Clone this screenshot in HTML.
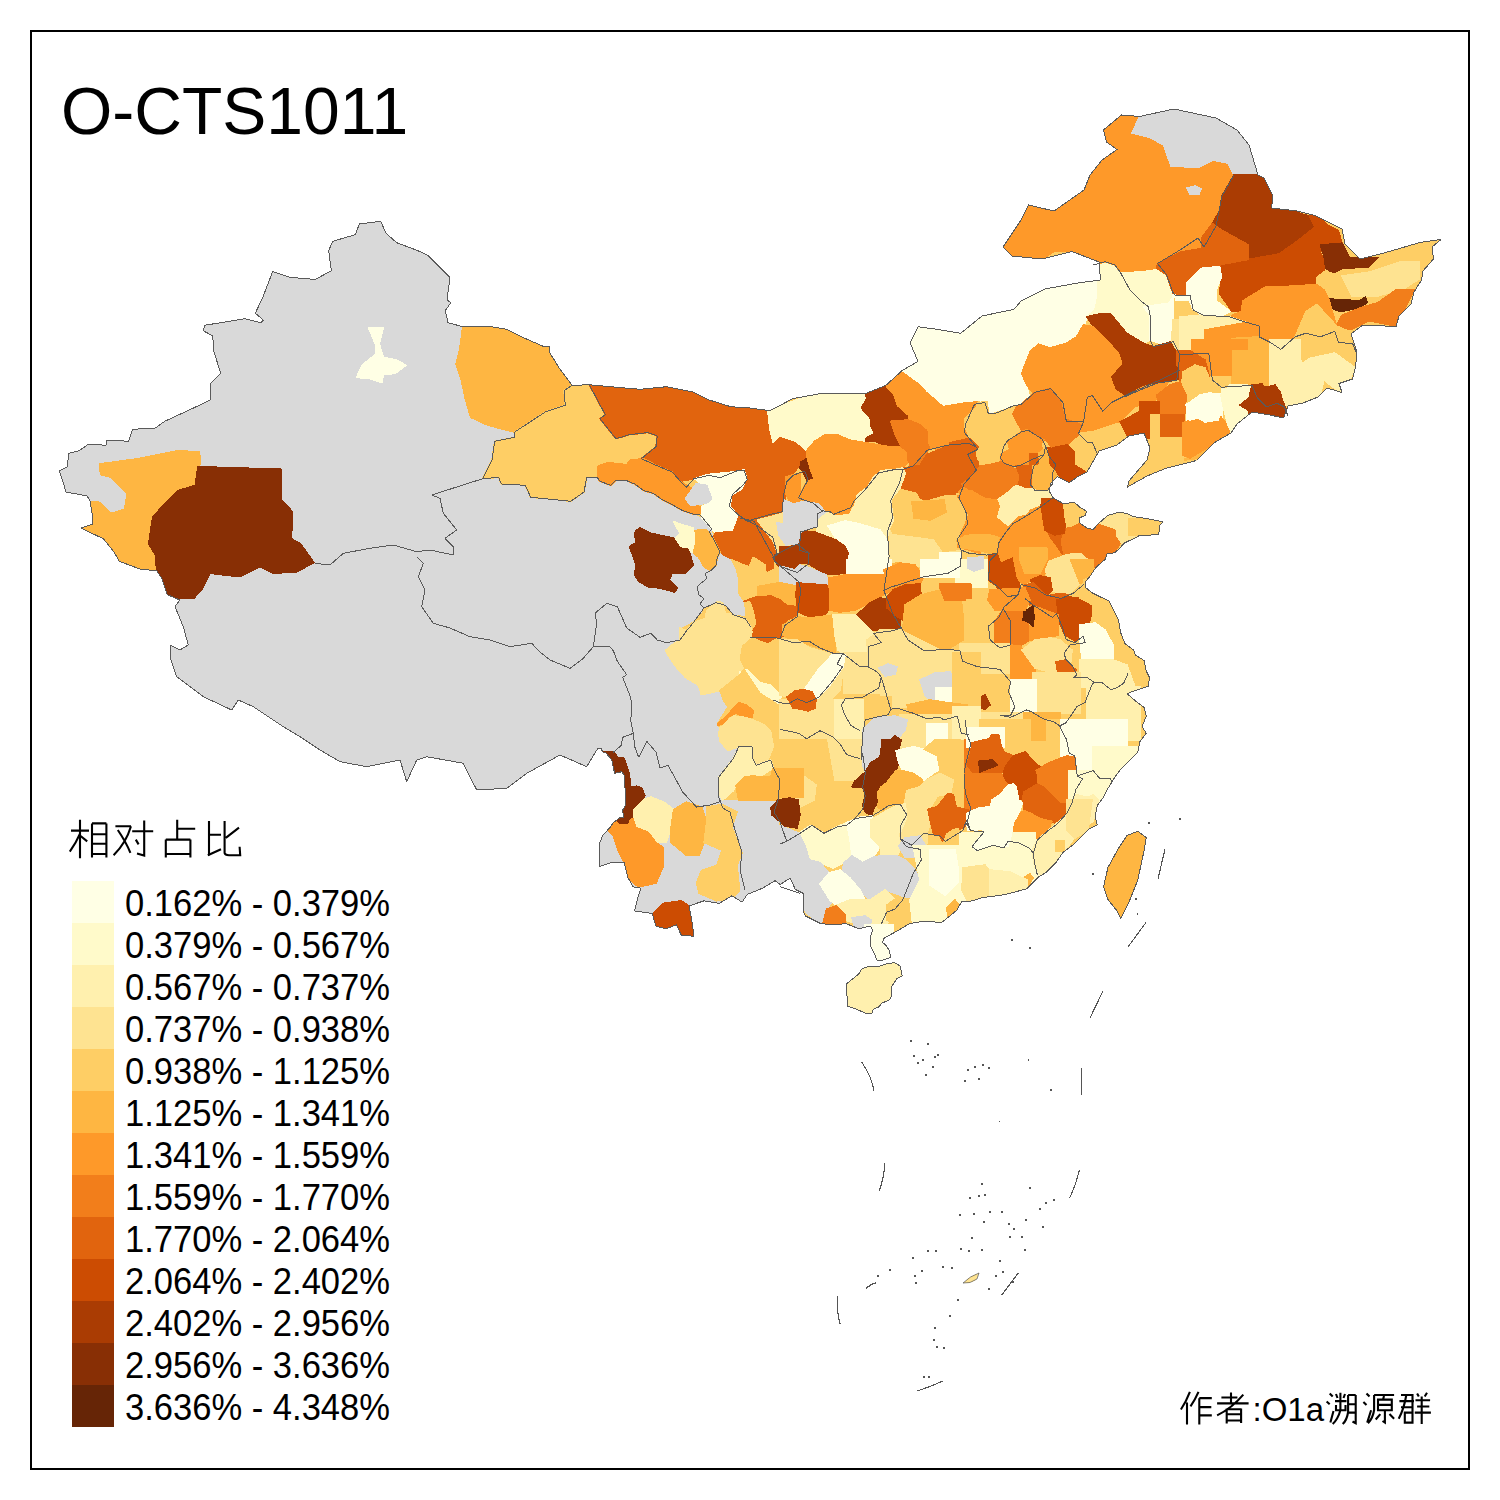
<!DOCTYPE html>
<html><head><meta charset="utf-8"><style>
html,body{margin:0;padding:0;background:#fff;}
body{width:1500px;height:1500px;overflow:hidden;position:relative;font-family:"Liberation Sans",sans-serif;}
svg{position:absolute;left:0;top:0;}
.leg text{font-family:"Liberation Sans",sans-serif;font-size:36px;fill:#000;}
</style></head><body>
<svg width="1500" height="1500" viewBox="0 0 1500 1500">
<rect x="0" y="0" width="1500" height="1500" fill="#fff"/>
<g stroke-linejoin="round" shape-rendering="crispEdges">
<clipPath id="cn"><polygon points="380.7,221.3 386,233.3 396.7,242.7 418,250.7 428.7,256 439.3,266.7 450,277.3 447,300 450.7,302.7 445.3,310.7 448,322.7 462.7,326.7 490.7,326.7 506.7,329.3 522.7,337.3 544,346.7 549.3,346.7 549.3,352 560,369.3 572,385.3 589.3,384.8 640,389.3 666.7,386.7 693.3,392 709.3,400 730.7,406.7 750,408 770,410.7 792.7,398.7 822,393.3 866,393.3 886,385.3 902,370.7 918,361.3 910,342.7 918,326.7 936.7,329.3 960.7,333.3 982,316 1014,309.3 1021,301 1045,289 1078,283 1100.5,280 1099,262 1072,251.5 1042,259 1012,256 1003,247 1021,220 1028.5,205 1054,211 1084,190 1090,175 1102,160 1117,149.5 1106.5,142 1103.5,130 1121.5,115 1139.5,116.5 1174,109 1216,118 1237,130 1249,145 1258,175 1264,178 1273,196 1271.5,208 1297,211 1315,215.5 1342,229 1345,244 1360,259 1384,253 1420,242.5 1441,239.5 1432,247 1433.5,259 1423,271 1421.5,280 1414,292 1411,304 1399,316 1396,326.5 1363,325 1351,334 1357,352 1355.5,367 1352.5,379 1339,383.5 1342,392.5 1327,388 1318,397 1303,403 1288,406 1283.5,418 1270,415 1252,412 1237,424 1231,433 1214.7,442.4 1196.5,460.5 1183,464 1166.7,468 1147,476 1127.5,487 1129,481 1147,460 1150,448 1144,433 1129,436 1117,445 1099,451 1087,472 1078.7,476 1069.3,482.7 1057.3,476.7 1050.7,483.3 1049.3,491.3 1053.3,498 1062.7,503.3 1074.7,502.7 1080,507.3 1086.7,511.3 1085.3,515.3 1079.3,518 1080,523.3 1088,528.7 1093.3,529.3 1098.7,523.3 1108,515.3 1120,512 1128,514 1133.3,516.7 1148,518.7 1163.3,522 1160,524.7 1158.7,534 1149.3,535.3 1140,535.3 1134.7,538 1124,543.3 1120,548 1114.7,552.7 1106.7,554 1105.3,559.3 1096,567.3 1090.7,575.3 1085.3,582 1085.3,587.3 1092,592.7 1100,596.7 1109.3,601.3 1114.7,612.7 1118.5,620 1120.7,632.8 1124.9,643.5 1133.5,649.9 1135.6,655.2 1144.1,660.5 1146.3,671.2 1149.5,677.6 1148.4,686.1 1135.6,690.4 1127.1,693.6 1135.6,701.1 1144.1,707.5 1146.3,716 1142,726.7 1146.3,733.1 1139.9,741.6 1137.7,752.3 1129.2,760.8 1120.7,769.3 1114.3,777.9 1107.9,788.5 1103.6,797.1 1097.2,805.6 1095.1,816.3 1097.2,824.8 1088.7,829.1 1085.3,833 1075,843.3 1063.3,852.1 1056,862.4 1045.7,872.7 1038.4,877.1 1026.7,888.8 1004.7,894.7 982.7,897.6 968,902 962,901 957,910 949,916.7 941.6,922.5 924,921.1 909.4,923.6 900,929.3 895.3,932 888,936 883.3,938.7 882.7,942.7 886,945.3 889.3,950.7 890.7,957.3 883.3,960 877.3,960.7 873.3,951.3 870.7,946.7 870,937.3 872.7,930.7 870.7,926 858.7,928.7 846,923.6 833.4,924.9 820.7,923.6 805.5,916 803,911 803,893.2 795.3,889.4 790.3,878 780.2,884.4 775.1,880.6 762.4,888.2 747.2,894.5 742.1,902.1 732,895.8 719.3,903.4 704.1,900.8 689,905.9 691.5,918.6 694,936.3 681.3,935 676.3,924.9 666.1,928.7 656,926.2 652.2,913.5 634.5,911 637,900.8 640.8,888.2 633.2,886.9 628.1,878 624.3,862.8 610.4,862.8 599,866.6 599,845 602.8,835 610.4,827.3 613,822.8 620.2,817.4 623.8,817.4 622.6,810.2 625,806 625,788 624.4,776 622,771.8 617.8,772.4 614.8,773.6 613,766.4 611.8,760 605.8,752.6 602.8,752 601,748.4 597.4,749 586.7,766.7 560,755 526.7,773.3 506.7,788.3 476.7,790 463.3,763.3 426.7,756.7 416.7,760 406.7,781.7 400,760 366.7,766.7 340,761.7 320,750 300,736.7 283.3,726.7 253.3,706.7 238.3,700 231.7,710 203.3,696.7 190,686.7 176.7,676.7 170,656.7 170,645 180,650 188.3,645 183.3,626.7 175,606.7 180,600 167.3,594.7 162,578.7 156.7,570.7 140.7,569.3 119.3,561.3 114,552 103.3,538.7 80.7,528 92.7,524 92.7,517.3 90,501.3 87.3,496 66,492 62,478.7 59.3,470.7 67.3,466.7 68.7,453.3 79.3,450.7 88.7,444 106,445.3 106,440 128.7,441.3 132.7,429.3 155.3,428 164.7,421.3 199.3,405.3 210,400 210,384 220.7,373.3 214,352 212.7,336 203.3,330.7 204.7,325.3 244.7,318.7 260.7,322.7 263.3,320 255.3,313.3 263.3,296 272.7,271.5 290,277.3 315.3,279.5 331.3,270.7 328.7,250.7 332.7,241.3 355.3,234.7 359.3,224"/><polygon points="846.7,984 847.3,1006 853.3,1008 865.3,1013 872,1013 873.3,1009.3 879.3,1006.7 881.3,1003.3 889.3,1000 891.3,996.7 891.3,987.3 896.7,978.7 902.3,976 900,966 894.7,962.7 886.7,963.7 878,966.7 868,966.7 862,968.7 858.7,974 848.7,982"/><polygon points="1137.7,831.2 1146.3,837.6 1144.1,850.4 1137.7,880.3 1129.2,901.6 1120.7,918.7 1116.4,910.1 1107.9,899.5 1103.6,886.7 1107.9,867.5 1118.5,848.3 1127.1,835.5"/></clipPath>
<polygon points="380.7,221.3 386,233.3 396.7,242.7 418,250.7 428.7,256 439.3,266.7 450,277.3 447,300 450.7,302.7 445.3,310.7 448,322.7 462.7,326.7 490.7,326.7 506.7,329.3 522.7,337.3 544,346.7 549.3,346.7 549.3,352 560,369.3 572,385.3 589.3,384.8 640,389.3 666.7,386.7 693.3,392 709.3,400 730.7,406.7 750,408 770,410.7 792.7,398.7 822,393.3 866,393.3 886,385.3 902,370.7 918,361.3 910,342.7 918,326.7 936.7,329.3 960.7,333.3 982,316 1014,309.3 1021,301 1045,289 1078,283 1100.5,280 1099,262 1072,251.5 1042,259 1012,256 1003,247 1021,220 1028.5,205 1054,211 1084,190 1090,175 1102,160 1117,149.5 1106.5,142 1103.5,130 1121.5,115 1139.5,116.5 1174,109 1216,118 1237,130 1249,145 1258,175 1264,178 1273,196 1271.5,208 1297,211 1315,215.5 1342,229 1345,244 1360,259 1384,253 1420,242.5 1441,239.5 1432,247 1433.5,259 1423,271 1421.5,280 1414,292 1411,304 1399,316 1396,326.5 1363,325 1351,334 1357,352 1355.5,367 1352.5,379 1339,383.5 1342,392.5 1327,388 1318,397 1303,403 1288,406 1283.5,418 1270,415 1252,412 1237,424 1231,433 1214.7,442.4 1196.5,460.5 1183,464 1166.7,468 1147,476 1127.5,487 1129,481 1147,460 1150,448 1144,433 1129,436 1117,445 1099,451 1087,472 1078.7,476 1069.3,482.7 1057.3,476.7 1050.7,483.3 1049.3,491.3 1053.3,498 1062.7,503.3 1074.7,502.7 1080,507.3 1086.7,511.3 1085.3,515.3 1079.3,518 1080,523.3 1088,528.7 1093.3,529.3 1098.7,523.3 1108,515.3 1120,512 1128,514 1133.3,516.7 1148,518.7 1163.3,522 1160,524.7 1158.7,534 1149.3,535.3 1140,535.3 1134.7,538 1124,543.3 1120,548 1114.7,552.7 1106.7,554 1105.3,559.3 1096,567.3 1090.7,575.3 1085.3,582 1085.3,587.3 1092,592.7 1100,596.7 1109.3,601.3 1114.7,612.7 1118.5,620 1120.7,632.8 1124.9,643.5 1133.5,649.9 1135.6,655.2 1144.1,660.5 1146.3,671.2 1149.5,677.6 1148.4,686.1 1135.6,690.4 1127.1,693.6 1135.6,701.1 1144.1,707.5 1146.3,716 1142,726.7 1146.3,733.1 1139.9,741.6 1137.7,752.3 1129.2,760.8 1120.7,769.3 1114.3,777.9 1107.9,788.5 1103.6,797.1 1097.2,805.6 1095.1,816.3 1097.2,824.8 1088.7,829.1 1085.3,833 1075,843.3 1063.3,852.1 1056,862.4 1045.7,872.7 1038.4,877.1 1026.7,888.8 1004.7,894.7 982.7,897.6 968,902 962,901 957,910 949,916.7 941.6,922.5 924,921.1 909.4,923.6 900,929.3 895.3,932 888,936 883.3,938.7 882.7,942.7 886,945.3 889.3,950.7 890.7,957.3 883.3,960 877.3,960.7 873.3,951.3 870.7,946.7 870,937.3 872.7,930.7 870.7,926 858.7,928.7 846,923.6 833.4,924.9 820.7,923.6 805.5,916 803,911 803,893.2 795.3,889.4 790.3,878 780.2,884.4 775.1,880.6 762.4,888.2 747.2,894.5 742.1,902.1 732,895.8 719.3,903.4 704.1,900.8 689,905.9 691.5,918.6 694,936.3 681.3,935 676.3,924.9 666.1,928.7 656,926.2 652.2,913.5 634.5,911 637,900.8 640.8,888.2 633.2,886.9 628.1,878 624.3,862.8 610.4,862.8 599,866.6 599,845 602.8,835 610.4,827.3 613,822.8 620.2,817.4 623.8,817.4 622.6,810.2 625,806 625,788 624.4,776 622,771.8 617.8,772.4 614.8,773.6 613,766.4 611.8,760 605.8,752.6 602.8,752 601,748.4 597.4,749 586.7,766.7 560,755 526.7,773.3 506.7,788.3 476.7,790 463.3,763.3 426.7,756.7 416.7,760 406.7,781.7 400,760 366.7,766.7 340,761.7 320,750 300,736.7 283.3,726.7 253.3,706.7 238.3,700 231.7,710 203.3,696.7 190,686.7 176.7,676.7 170,656.7 170,645 180,650 188.3,645 183.3,626.7 175,606.7 180,600 167.3,594.7 162,578.7 156.7,570.7 140.7,569.3 119.3,561.3 114,552 103.3,538.7 80.7,528 92.7,524 92.7,517.3 90,501.3 87.3,496 66,492 62,478.7 59.3,470.7 67.3,466.7 68.7,453.3 79.3,450.7 88.7,444 106,445.3 106,440 128.7,441.3 132.7,429.3 155.3,428 164.7,421.3 199.3,405.3 210,400 210,384 220.7,373.3 214,352 212.7,336 203.3,330.7 204.7,325.3 244.7,318.7 260.7,322.7 263.3,320 255.3,313.3 263.3,296 272.7,271.5 290,277.3 315.3,279.5 331.3,270.7 328.7,250.7 332.7,241.3 355.3,234.7 359.3,224" fill="#D9D9D9"/>
<polygon points="846.7,984 847.3,1006 853.3,1008 865.3,1013 872,1013 873.3,1009.3 879.3,1006.7 881.3,1003.3 889.3,1000 891.3,996.7 891.3,987.3 896.7,978.7 902.3,976 900,966 894.7,962.7 886.7,963.7 878,966.7 868,966.7 862,968.7 858.7,974 848.7,982" fill="#D9D9D9"/>
<polygon points="1137.7,831.2 1146.3,837.6 1144.1,850.4 1137.7,880.3 1129.2,901.6 1120.7,918.7 1116.4,910.1 1107.9,899.5 1103.6,886.7 1107.9,867.5 1118.5,848.3 1127.1,835.5" fill="#D9D9D9"/>
<g clip-path="url(#cn)">
<polygon points="462,250 462.7,326.7 460,348 456,364 461.3,380 465.3,398.7 470.7,417.3 488,425.3 514.7,432 514.7,437.3 494.7,441.3 492,460 482.7,478.7 498.7,477.3 501.3,484 525.3,485.3 530.7,497.3 570.7,501.3 584,492 586.7,477.3 597.3,477.3 600,481.3 610.7,485.3 616,480 626.7,480.7 634.7,484 644,490.7 653.3,493.3 662.7,500 673.3,505.3 682.7,510.7 693.3,514 701.3,517.3 712,529.3 713.3,538.7 717.3,546.7 720,552 733.3,560 736,568 738.7,578.7 738.7,593.3 744,601.3 745.3,616 733.3,614.7 725.3,605.3 716,602.7 704,608 701.3,613.3 693.3,621.3 686.7,625.3 678.7,629.3 680,640 673.3,644 665.3,650.7 674.7,665.3 685.3,677.3 698.7,685.3 701.3,694.7 720,690.7 724,701.3 728,706.7 724,713.3 717.3,724 720,728 718.7,733.3 720,741.3 728,750.7 738.7,746.7 733.3,758.7 722.7,772 718.7,777.3 718.7,793.3 722.7,800 800,800 803,893 803,1050 1500,1050 1500,50 462,50" fill="#FECE65"/>
<polygon points="99.3,464 138,458.7 178,450.7 199.3,452 200.7,464 198,466.7 195.3,485.3 178,490.7 162,506.7 152.7,517.3 148.7,544 155.3,554.7 156.7,570.7 140.7,569.3 119.3,561.3 114,552 103.3,538.7 80.7,528 92.7,524 90,501.3 98,501.3 111.3,513.3 124.7,509.3 127.3,493.3 111.3,477.3 100.7,474.7" fill="#FEB642" stroke="#FEB642" stroke-width="1.6"/>
<polygon points="198,466.7 280.7,469.3 280.7,498.7 292.7,512 291.3,538.7 300.7,544 314,562.7 296.7,571.7 273.3,573.3 260,566.7 240,576.7 210,573.3 202,589.3 194,598 180,598.3 167.3,594.7 162,578.7 156.7,570.7 155.3,554.7 148.7,544 152.7,517.3 162,506.7 178,490.7 195.3,485.3" fill="#882F05" stroke="#882F05" stroke-width="1.6"/>
<polygon points="368.7,328 383.3,328 379.3,344 383.3,357.3 396.7,360 406,365.3 395.3,373.3 383.3,374.7 382,382.7 370,378.7 356.7,377.3 362,365.3 375.3,354.7 375.3,344" fill="#FFFFE5" stroke="#FFFFE5" stroke-width="1.6"/>
<polygon points="462.7,326.7 490.7,326.7 506.7,329.3 522.7,337.3 544,346.7 549.3,346.7 549.3,352 560,369.3 572,385.3 564,390.7 565.3,405.3 545.3,412 514.7,432 488,425.3 470.7,417.3 465.3,398.7 461.3,380 456,364 460,348" fill="#FEB642" stroke="#FEB642" stroke-width="1.6"/>
<polygon points="572,385.3 589.3,384.8 605.3,414.7 600,418.7 616,438.7 629.3,434.7 648,432.5 657.3,436 656,446.7 641.3,458.7 632,461.3 597.3,466.7 586.7,477.3 584,492 570.7,501.3 549.3,498.7 530.7,497.3 525.3,485.3 514.7,484 501.3,484 498.7,477.3 482.7,478.7 492,460 494.7,441.3 514.7,437.3 514.7,432 545.3,412 565.3,405.3 564,390.7" fill="#FECE65" stroke="#FECE65" stroke-width="1.6"/>
<polygon points="589.3,384.8 640,389.3 666.7,386.7 693.3,392 709.3,400 730.7,406.7 750,408 770,410.7 780,406 780,436 796,441.3 806.7,450.7 805.3,460 800,465.3 790.7,476 785.3,486.7 785,500 784,520 773.3,516 757.3,520 746.7,520 738.7,517.3 737.3,514.7 730,506.7 732,494.7 741.3,489.3 746.7,478.7 744,470 733.3,472 720,473.3 706.7,474.7 694.7,478.7 680,481.3 672,472 656,465.3 644,458.7 641.3,458.7 656,446.7 657.3,436 648,432.5 629.3,434.7 616,438.7 600,418.7 605.3,414.7" fill="#E1640E" stroke="#E1640E" stroke-width="1.6"/>
<polygon points="600,465.3 608,462.7 626.7,464.7 630.7,460 644,458.7 656,465.3 672,472 680,481.3 693.3,489.3 685.3,497.3 688,504 701.3,506.7 701.3,512.7 693.3,514 682.7,510.7 673.3,505.3 662.7,500 653.3,493.3 644,490.7 634.7,484 626.7,480.7 616,480 610.7,485.3 600,481.3 597.3,477.3 597.3,466.7" fill="#FE9929" stroke="#FE9929" stroke-width="1.6"/>
<polygon points="685.3,498.7 696,484 708,484 713.3,498.7 710.7,502.7 701.3,504 690.7,505.3" fill="#D9D9D9" stroke="#D9D9D9" stroke-width="1.6"/>
<polygon points="694.7,478.7 706.7,474.7 720,473.3 733.3,472 744,470 746.7,478.7 741.3,489.3 732,494.7 730,506.7 737.3,514.7 737.3,522.7 732,532 717.3,536 712,529.3 701.3,517.3 701.3,506.7 710.7,502.7 713.3,498.7 708,484 700,482.7" fill="#FFFFE5" stroke="#FFFFE5" stroke-width="1.6"/>
<polygon points="714.7,533.3 725.3,532 733.3,532 738.7,517.3 746.7,520 756,521.3 765.3,530.7 773.3,541.3 776,552 773.3,556 773.3,568 765.3,572 765.3,565.3 753.3,557.3 749.3,566.7 741.3,564 733.3,560 722.7,554.7 717.3,546.7 713.3,538.7" fill="#E1640E" stroke="#E1640E" stroke-width="1.6"/>
<polygon points="757.3,520 773.3,516 786.7,512 792,533.3 789.3,546.7 777.3,553.3 773.3,541.3 765.3,530.7" fill="#FEE391" stroke="#FEE391" stroke-width="1.6"/>
<polygon points="777,523 797,525 797,543 786,545 779,535" fill="#D9D9D9" stroke="#D9D9D9" stroke-width="1.6"/>
<polygon points="693.3,530.7 705.3,529.3 709.3,532 713.3,538.7 717.3,546.7 720,552 717.3,557.3 716,565.3 710.7,570.7 704,566.7 698.7,557.3 692,552 694.7,541.3" fill="#FEB642" stroke="#FEB642" stroke-width="1.6"/>
<polygon points="673.3,521.3 680,524 693.3,528 694.7,541.3 692,552 688,549.3 680,548 674.7,538.7 680,533.3" fill="#FFFACA" stroke="#FFFACA" stroke-width="1.6"/>
<polygon points="636,530.7 640,528 650.7,533.3 673.3,538 680,548 688,549.3 690.7,556 693.3,565.3 690.7,568 685.3,573.3 672,573.3 669.3,580 677.3,588 674.7,592 660,588 648,586.7 638.7,581.3 634.7,574.7 636,565.3 632,553.3 629.3,546.7 636,542.7 634.7,533.3" fill="#882F05" stroke="#882F05" stroke-width="1.6"/>
<polygon points="732,560 741.3,564 749.3,566.7 753.3,557.3 765.3,565.3 765.3,572 776,574.7 778.7,581.3 772,584 764,590.7 757.3,586.7 754.7,597.3 744,601.3 738.7,593.3 738.7,578.7 736,568" fill="#FECE65" stroke="#FECE65" stroke-width="1.6"/>
<polygon points="757.3,586.7 772,584 786.7,581.3 800,578.7 800,606.7 786.7,604 773.3,600 762.7,601.3 757.3,596" fill="#FEB642" stroke="#FEB642" stroke-width="1.6"/>
<polygon points="774.7,554.7 786.7,550.7 797.3,544 800,541.3 800,576 794.7,573.3 785.3,570.7 777.3,565.3" fill="#AA3C03" stroke="#AA3C03" stroke-width="1.6"/>
<polygon points="785.3,477.3 793.3,474.7 800,473.3 800,512 793.3,509.3 785.3,493.3" fill="#FE9929" stroke="#FE9929" stroke-width="1.6"/>
<polygon points="744,601.3 754.7,597.3 770.7,596 780,600 786.7,605.3 797.3,606.7 797.3,616 786.7,620 784,626.7 786.7,636 777.3,637.3 768,644 760,641.3 750.7,637.3 752,632 757.3,624 754.7,610.7 750.7,600" fill="#E1640E" stroke="#E1640E" stroke-width="1.6"/>
<polygon points="741.3,645.3 750.7,637.3 760,641.3 768,644 777.3,638.7 786.7,640 800,641.3 810,660 805,700 790,720 778.7,705.3 770,690 744,669.3 738.7,658.7" fill="#FECE65" stroke="#FECE65" stroke-width="1.6"/>
<polygon points="680,628 686.7,630.7 693.3,622.7 705.3,618.7 706.7,610.7 717.3,601.3 722.7,602.7 725.3,613.3 733.3,614.7 745.3,618.7 750.7,626.7 752,632 750.7,637.3 741.3,645.3 738.7,658.7 744,669.3 740,674.7 720,690.7 701.3,694.7 698.7,685.3 685.3,677.3 674.7,665.3 665.3,650.7 673.3,644 680,640" fill="#FEE391" stroke="#FEE391" stroke-width="1.6"/>
<polygon points="740,672 746.7,669.3 760,682.7 770.7,685.3 781.3,696 778.7,704 768,700 760,693.3 746.7,685.3 741.3,678.7" fill="#FFFACA" stroke="#FFFACA" stroke-width="1.6"/>
<polygon points="720,690.7 740,674.7 744,669.3 760,693.3 778.7,705.3 790,720 770.7,732 753.3,720 744,717.3 733.3,716 720,728 717.3,724 724,713.3 728,706.7 724,701.3" fill="#FECE65" stroke="#FECE65" stroke-width="1.6"/>
<polygon points="717.3,724 725.3,717.3 738.7,702.7 746.7,705.3 753.3,710.7 752,717.3 744,717.3 736,713.3 728,717.3 724,724 717.3,725.3" fill="#FE9929" stroke="#FE9929" stroke-width="1.6"/>
<polygon points="720,728 733.3,716 744,717.3 753.3,720 765.3,725.3 770.7,732 773.3,746.7 768,760 756,765.3 752,757.3 752,746.7 738.7,746.7 728,750.7 720,741.3 718.7,733.3" fill="#FEE391" stroke="#FEE391" stroke-width="1.6"/>
<polygon points="718.7,777.3 722.7,772 733.3,758.7 738.7,746.7 752,746.7 752,757.3 756,765.3 770.7,760 773.3,768 761.3,776 746.7,777.3 736,785.3 733.3,790.7 722.7,800 718.7,793.3" fill="#FFF0AE" stroke="#FFF0AE" stroke-width="1.6"/>
<polygon points="736,785.3 744,777.3 752,776 770.7,777.3 773.3,768 786.7,770.7 800,770.7 800,800 738.7,800" fill="#FEB642" stroke="#FEB642" stroke-width="1.6"/>
<polygon points="768,412 780,406 800,398.7 820,393.3 865.3,393.3 866.7,398.7 861.3,408 870.7,418.7 870.7,425.3 874.7,433.3 865.3,438.7 865.3,442.7 849.3,440 837.3,434.7 825.3,434.7 814.7,441.3 810.7,449.3 806.7,450.7 796,441.3 780,436 773,442 770,430" fill="#FFFACA" stroke="#FFFACA" stroke-width="1.6"/>
<polygon points="865.3,393.3 873.3,388 886.7,386.7 893.3,393.3 897.3,405.3 909.3,416 908,420 890.7,421.3 894.7,433.3 901.3,446.7 889.3,446.7 874.7,441.3 865.3,441.3 865.3,438.7 874.7,433.3 870.7,425.3 870.7,418.7 861.3,408 866.7,398.7" fill="#AA3C03" stroke="#AA3C03" stroke-width="1.6"/>
<polygon points="806.7,450.7 814.7,441.3 825.3,434.7 837.3,434.7 849.3,440 865.3,442.7 889.3,446.7 901.3,446.7 908,452 908,462.7 902.7,468 896,469.3 881.3,470.7 873.3,477.3 868,486.7 857.3,494.7 854.7,505.3 850.7,508 849.3,514.7 836,516 825.3,512 818.7,504 804,501.3 798.7,497.3 804,486.7 810.7,476 806.7,460" fill="#FE9929" stroke="#FE9929" stroke-width="1.6"/>
<polygon points="886.7,386.7 893.3,372 905,362 920,370 926.7,390.7 946.7,404 960,400 969.3,401.3 977.3,400 974.7,406.7 966.7,420 969.3,437.3 962.7,444 949.3,445.3 940,449.3 929.3,448 926.7,441.3 926.7,430.7 918.7,424 908,420 909.3,416 897.3,405.3 893.3,393.3" fill="#FE9929" stroke="#FE9929" stroke-width="1.6"/>
<polygon points="890.7,421.3 908,420 918.7,424 926.7,430.7 926.7,441.3 929.3,448 924,457.3 920,465.3 910.7,466.7 908,460 908,452 901.3,446.7 894.7,433.3" fill="#F27E1B" stroke="#F27E1B" stroke-width="1.6"/>
<polygon points="904,468 920,465.3 926.7,454.7 940,449.3 949.3,445.3 962.7,444 972,444 980,448 977.3,465.3 974.7,473.3 966.7,481.3 962.7,489.3 953.3,494.7 940,497.3 926.7,501.3 920,500 916,493.3 900,488 902.7,473.3" fill="#E1640E" stroke="#E1640E" stroke-width="1.6"/>
<polygon points="900,489.3 916,493.3 920,500 926.7,501.3 940,497.3 957.3,493.3 964,502.7 969.3,513.3 964,526.7 958.7,540 960,550.7 942.7,553.3 933.3,540 913.3,537.3 892,534.7 889.3,529.3 893.3,520 892,510.7 890.7,500" fill="#FECE65" stroke="#FECE65" stroke-width="1.6"/>
<polygon points="912,502 944,500 946,512 930,520 914,518" fill="#FEB642" stroke="#FEB642" stroke-width="1.6"/>
<polygon points="889.3,529.3 892,534.7 913.3,537.3 933.3,540 942.7,553.3 960,550.7 958,560 940,565 915,566 900,562.7 889.3,564" fill="#FEE391" stroke="#FEE391" stroke-width="1.6"/>
<polygon points="818.7,513.3 825.3,512 836,516 849.3,514.7 854.7,505.3 857.3,494.7 868,486.7 873.3,477.3 881.3,470.7 896,469.3 902.7,468 905.3,473.3 900,488 890.7,500 892,510.7 893.3,520 889.3,529.3 886.7,540 889.3,564 854.7,572 846.7,564 845.3,546.7 836,540 817.3,532 816,520" fill="#FFF0AE" stroke="#FFF0AE" stroke-width="1.6"/>
<polygon points="828,526 845,521 860,524 880,530 887,540 888,562 870,568 855,570 847,562 846,545 835,537" fill="#FFFFE5" stroke="#FFFFE5" stroke-width="1.6"/>
<polygon points="801.3,530.7 814.7,532 836,540 845.3,546.7 848,553.3 845.3,573.3 826.7,574.7 806.7,562.7 796,564 788,572 780,564 780,546.7 790.7,546.7 798.7,542.7" fill="#AA3C03" stroke="#AA3C03" stroke-width="1.6"/>
<polygon points="784,500 793.3,504 804,501.3 818.7,504 825.3,512 817.3,518.7 816,526.7 801.3,530.7 797.3,544 785.3,544 784,520" fill="#D9D9D9" stroke="#D9D9D9" stroke-width="1.6"/>
<polygon points="958.7,492 966.7,484 980,481.3 980,553.3 957.3,546.7 961.3,534.7 969.3,513.3 964,502.7" fill="#FE9929" stroke="#FE9929" stroke-width="1.6"/>
<polygon points="846.7,572 854.7,572 889.3,564 900,562.7 913.3,566.7 924,577.3 886.7,580 846.7,580" fill="#FEB642" stroke="#FEB642" stroke-width="1.6"/>
<polygon points="920,380 926.7,390.7 946.7,404 960,400 980,397.3 980,380" fill="#FFFFE5" stroke="#FFFFE5" stroke-width="1.6"/>
<polygon points="901.7,370 905,330 915,315 960,320 983.3,305 1015,298 1040,280 1076.7,275 1100,276 1100,290 1096.7,306.7 1086.7,318.3 1080,336.7 1063.3,343.3 1048.3,350 1036.7,350 1021.7,373.3 1025,378.3 1030,400 1010,406.7 988.3,413.3 980,400 963.3,401.7 943.3,405 930,393.3 920,383.3" fill="#FFFFE5" stroke="#FFFFE5" stroke-width="1.6"/>
<polygon points="1096.7,271.7 1093.3,265 1105,261.7 1115,265 1120,271.7 1143.3,270 1156.7,268.3 1166.7,275 1173.3,293.3 1168.3,303.3 1143.3,306.7 1150,315 1150,340 1143.3,343.3 1126.7,333.3 1110,313.3 1093.3,313.3 1086.7,316.7 1095,310 1098.3,295" fill="#FFFACA" stroke="#FFFACA" stroke-width="1.6"/>
<polygon points="1143.3,306.7 1168.3,303.3 1175,295 1190,295 1193.3,310 1210,316.7 1210,273.3 1190,283.3 1188,300 1176,300 1173.3,293.3 1173,320 1170,347 1150,340 1150,315" fill="#FFFFE5" stroke="#FFFFE5" stroke-width="1.6"/>
<polygon points="1086.7,316.7 1103.3,313.3 1110,313.3 1126.7,333.3 1143.3,343.3 1153.3,346.7 1171.7,341.7 1178.3,353.3 1180,365 1185,373.3 1176.7,380 1156.7,383.3 1140,390 1125,396.7 1115,390 1110,376.7 1121.7,363.3 1118.3,353.3 1106.7,340 1093.3,326.7" fill="#AA3C03" stroke="#AA3C03" stroke-width="1.6"/>
<polygon points="1021.7,373.3 1030,352 1038.3,344 1050,348 1066.7,343.3 1076.7,336.7 1083.3,325 1093.3,326.7 1106.7,340 1118.3,353.3 1121.7,363.3 1110,376.7 1115,390 1125,396.7 1105,410 1086.7,396.7 1066.7,420 1050,388.3 1033.3,393.3 1026.7,385" fill="#FE9929" stroke="#FE9929" stroke-width="1.6"/>
<polygon points="1011.7,413.3 1033.3,393.3 1050,388.3 1060,400 1065,420 1083.3,423.3 1076.7,433.3 1070,441.7 1046.7,440 1036.7,433.3 1026.7,430 1016.7,425" fill="#F27E1B" stroke="#F27E1B" stroke-width="1.6"/>
<polygon points="1086.7,396.7 1105,410 1125,396.7 1143.3,386.7 1168.3,381.7 1160,398.3 1135,406.7 1118.3,423.3 1093.3,431.7 1080,433.3 1083.3,423.3 1065,420" fill="#FE9929" stroke="#FE9929" stroke-width="1.6"/>
<polygon points="1076.7,433.3 1093.3,431.7 1118.3,423.3 1126.7,433.3 1110,443.3 1096.7,456.7 1086.7,470 1076.7,463.3 1073.3,448.3 1070,441.7" fill="#FECE65" stroke="#FECE65" stroke-width="1.6"/>
<polygon points="1046.7,448.3 1066.7,445 1076.7,455 1083.3,471.7 1073.3,476.7 1066.7,481.7 1056.7,473.3 1048.3,463.3" fill="#CC4C02" stroke="#CC4C02" stroke-width="1.6"/>
<polygon points="1120,421.7 1136.7,413.3 1156.7,403.3 1160,420 1153.3,433.3 1148.3,436.7 1143.3,435 1126.7,435" fill="#CC4C02" stroke="#CC4C02" stroke-width="1.6"/>
<polygon points="1156.7,403.3 1176.7,385 1183.3,406.7 1183.3,423.3 1171.7,435 1160,420" fill="#F27E1B" stroke="#F27E1B" stroke-width="1.6"/>
<polygon points="1126.7,466.7 1135,460 1150,443.3 1153.3,433.3 1171.7,435 1183.3,428.3 1185,448.3 1176.7,458.3 1160,466.7 1143.3,476.7 1128.3,486.7" fill="#FECE65" stroke="#FECE65" stroke-width="1.6"/>
<polygon points="1183.3,423.3 1196.7,420 1210,416.7 1210,456.7 1185,460 1185,448.3" fill="#FEB642" stroke="#FEB642" stroke-width="1.6"/>
<polygon points="1181.7,370 1190,366.7 1210,360 1210,398 1185,398" fill="#FECE65" stroke="#FECE65" stroke-width="1.6"/>
<polygon points="1185,398 1210,398 1210,420 1185,420" fill="#FFFFE5" stroke="#FFFFE5" stroke-width="1.6"/>
<polygon points="1177,350 1210,350 1210,360 1190,366.7 1181.7,370 1177,365" fill="#E1640E" stroke="#E1640E" stroke-width="1.6"/>
<polygon points="1173,320 1207,320 1210,347 1177,350 1171.7,341.7" fill="#FEE391" stroke="#FEE391" stroke-width="1.6"/>
<polygon points="1003,247 1021,220 1028.5,205 1054,211 1084,190 1090,175 1102,160 1117,149.5 1106.5,142 1103.5,130 1121.5,115 1139.5,116.5 1132,133 1150,137.5 1163.5,145 1171,166 1198,167.5 1213,160 1228,163 1234,175 1222,196 1219.6,210.8 1212.4,223.4 1201.6,237.8 1201.6,248.6 1180,252.2 1157.5,263.5 1156.7,268.3 1143.3,270 1120,271.7 1115,265 1105,261.7 1093.3,265 1086.7,263.3 1070,251.7 1055,250.8 1043.3,258.3 1011.7,258.3" fill="#FE9929" stroke="#FE9929" stroke-width="1.6"/>
<polygon points="1139.5,116.5 1174,109 1216,118 1237,130 1249,145 1258,175 1234,175 1228,163 1213,160 1198,167.5 1171,166 1163.5,145 1150,137.5 1132,133" fill="#D9D9D9" stroke="#D9D9D9" stroke-width="1.6"/>
<polygon points="1187,188 1195,186 1201,189 1199,194 1190,194.5" fill="#D9D9D9" stroke="#D9D9D9" stroke-width="1.6"/>
<polygon points="1234,175 1258,175 1264,178 1273,196 1271.5,208 1291.6,210.8 1309.6,216.2 1315,227 1306,234.2 1297,241.4 1279,254 1248.4,259.4 1248.4,245 1232.2,236 1219.6,228.8 1212.4,223.4 1219.6,210.8 1222,196" fill="#AA3C03" stroke="#AA3C03" stroke-width="1.6"/>
<polygon points="1315,227 1309.6,216.2 1316.8,214.4 1327.6,225.2 1338.4,230.6 1342,243.2 1324,245 1320.4,252.2 1324,259.4 1324,272 1316.8,277.4 1316.8,284.6 1288,286.4 1266.4,286.4 1243,300.8 1241.2,311.6 1232.2,311.6 1219.6,293.6 1221.4,277.4 1219.6,264.8 1248.4,259.4 1279,254 1297,241.4" fill="#CC4C02" stroke="#CC4C02" stroke-width="1.6"/>
<polygon points="1157.5,263.5 1180,252.2 1201.6,248.6 1201.6,237.8 1212.4,223.4 1219.6,228.8 1232.2,236 1248.4,245 1248.4,259.4 1219.6,264.8 1221.4,277.4 1219.6,268.4 1201.6,268.4 1187.2,282.8 1187.2,295.4 1173,293.3 1166.7,275 1156.7,268.3" fill="#E1640E" stroke="#E1640E" stroke-width="1.6"/>
<polygon points="1187.2,282.8 1201.6,268.4 1219.6,266.6 1221.4,277.4 1216,290 1216,300.8 1230.4,311.6 1219.6,317 1201.6,315.2 1192.6,308 1187.2,295.4" fill="#FFFFE5" stroke="#FFFFE5" stroke-width="1.6"/>
<polygon points="1320.4,245 1342,243.2 1349.2,257.6 1379.8,257.6 1378,263 1369,268.4 1342,270.2 1334.8,273.8 1325.8,268.4 1324,255.8" fill="#882F05" stroke="#882F05" stroke-width="1.6"/>
<polygon points="1316.8,277.4 1324,272 1334.8,273.8 1342,270.2 1369,268.4 1379.8,257.6 1387,252.2 1414,243.2 1441,239.6 1430.2,245 1433.8,257.6 1423,264.8 1419.4,279.2 1414,290 1396,290 1378,302.6 1367.2,304.4 1360,308 1342,315.2 1331.2,308 1329.4,300.8 1324,290 1316.8,284.6" fill="#FECE65" stroke="#FECE65" stroke-width="1.6"/>
<polygon points="1342,276 1370,272 1400,262 1419,262 1419,279 1405,288 1378,296 1352,296" fill="#FEE391" stroke="#FEE391" stroke-width="1.6"/>
<polygon points="1329.4,299 1345,300 1360,300.8 1365.4,297.2 1367.2,302.6 1358.2,308 1340.2,311.6 1331.2,308" fill="#662506" stroke="#662506" stroke-width="1.6"/>
<polygon points="1342,315.2 1360,308 1378,302.6 1396,290 1414,290 1405,308 1396,326 1369,320.6 1351,329.6 1336.6,326" fill="#F27E1B" stroke="#F27E1B" stroke-width="1.6"/>
<polygon points="1232.2,315.2 1241.2,311.6 1243,300.8 1266.4,286.4 1288,286.4 1316.8,284.6 1324,290 1329.4,300.8 1331.2,308 1336.6,326 1316.8,304.4 1306,311.6 1295.2,336.8 1280.8,349.4 1270,342.2 1259.2,336.8 1259.2,326 1246.6,322.4 1230.4,317" fill="#FE9929" stroke="#FE9929" stroke-width="1.6"/>
<polygon points="1295.2,336.8 1306,311.6 1316.8,304.4 1336.6,326 1349.2,331.4 1354.6,353 1354.6,367.4 1334.8,353 1309.6,358.4 1302.4,363.8 1291.6,342.2" fill="#FECE65" stroke="#FECE65" stroke-width="1.6"/>
<polygon points="1277.2,353 1291.6,342.2 1302.4,363.8 1309.6,358.4 1334.8,353 1354.6,367.4 1349.2,381.8 1338.4,383.6 1340.2,392.6 1324,380 1320.4,394.4 1302.4,403.4 1284.4,405.2 1280.8,390.8 1270,376.4 1273.6,365.6" fill="#FFF0AE" stroke="#FFF0AE" stroke-width="1.6"/>
<polygon points="1180,317 1201.6,315.2 1219.6,317 1230.4,317 1246.6,322.4 1239,349 1210,350 1180,349" fill="#FFF0AE" stroke="#FFF0AE" stroke-width="1.6"/>
<polygon points="1205,330 1246.6,322.4 1259.2,326 1259.2,336.8 1248,372.8 1205,372.8" fill="#FE9929" stroke="#FE9929" stroke-width="1.6"/>
<polygon points="1232,338.6 1259.2,336.8 1270,342.2 1280.8,349.4 1277.2,353 1273.6,365.6 1270,376.4 1273.6,383.6 1264.6,387.2 1253.8,385.4 1232,389" fill="#FEB642" stroke="#FEB642" stroke-width="1.6"/>
<polygon points="1180,353 1209,353 1209,380 1180,380" fill="#E1640E" stroke="#E1640E" stroke-width="1.6"/>
<polygon points="1241.2,407 1253.8,385.4 1264.6,387.2 1273.6,383.6 1280.8,390.8 1282.6,403.4 1288,416 1280.8,419.6 1264.6,416 1257.4,410.6 1248.4,414.2" fill="#AA3C03" stroke="#AA3C03" stroke-width="1.6"/>
<polygon points="1221.4,389 1252,385.4 1241.2,407 1248.4,414.2 1234,432.2 1230.4,430.4 1223.2,407" fill="#FFFACA" stroke="#FFFACA" stroke-width="1.6"/>
<polygon points="1185,394 1221,394 1223,423 1185,423" fill="#FFFFE5" stroke="#FFFFE5" stroke-width="1.6"/>
<polygon points="964.9,419.2 973.5,409.6 982,402.1 987.3,402.1 988.4,413.9 994.8,414.9 1009.7,408.5 1016.1,407.5 1012.9,413.9 1016.1,420.3 1022.5,432 1009.7,440.5 1009.7,449.1 1001.2,454.4 1000.1,459.7 992.7,464 982,464 977.7,459.7 976.7,451.2 972.4,445.9 971.3,440.5 968.1,434.1 964.9,426.7" fill="#FECE65" stroke="#FECE65" stroke-width="1.6"/>
<polygon points="1016.1,407.5 1024.7,403.2 1056.7,400 1062,408.5 1065.2,419.2 1078,423.5 1078,435.2 1067.3,444.8 1052.4,448 1046,440.5 1037.5,437.3 1026.8,429.9 1022.5,432 1016.1,420.3 1012.9,413.9" fill="#F27E1B" stroke="#F27E1B" stroke-width="1.6"/>
<polygon points="1007.6,441.6 1022.5,430.9 1026.8,429.9 1037.5,437.3 1043.9,439.5 1040.7,444.8 1042.8,450.1 1038.5,453.3 1030,455.5 1030,465.1 1020.4,467.2 1010.8,466.1 1001.2,461.9 1001.2,454.4 1009.7,449.1" fill="#FE9929" stroke="#FE9929" stroke-width="1.6"/>
<polygon points="1030,453.3 1039.6,453.3 1039.6,465 1030,465" fill="#E1640E" stroke="#E1640E" stroke-width="1.6"/>
<polygon points="1047.1,450.1 1056.7,446.9 1067.3,444.8 1075.9,451.2 1075.9,464 1086.5,470.4 1080.1,474.7 1069.5,482.1 1062,476.8 1055.6,472.5 1048.1,464 1048.1,456.5" fill="#CC4C02" stroke="#CC4C02" stroke-width="1.6"/>
<polygon points="1038.5,453.3 1042.8,450.1 1047.1,450.1 1048.1,456.5 1048.1,464 1055.6,472.5 1056.7,476.8 1051.3,484.3 1050.3,490.7 1040.7,491.7 1030,488.5 1028.9,481.1 1032.1,474.7 1031,466.1 1039.6,465.1 1039.6,459.7" fill="#FEB642" stroke="#FEB642" stroke-width="1.6"/>
<polygon points="1069.5,444.8 1078,440.5 1088.7,442.7 1095.1,453.3 1099.3,455.5 1088.7,461.9 1086.5,470.4 1075.9,464 1075.9,451.2" fill="#FECE65" stroke="#FECE65" stroke-width="1.6"/>
<polygon points="950,442.7 969.2,438.4 978.8,446.9 968.1,454.4 978.8,461.9 975.6,476.8 960.7,485.3 955.3,493.9 950,493.9" fill="#E1640E" stroke="#E1640E" stroke-width="1.6"/>
<polygon points="961.7,484.3 971.3,476.8 979.9,466.1 992.7,464 1001.2,461.9 1010.8,466.1 1017.2,470.4 1020.4,476.8 1016.1,485.3 1008.7,491.7 997,498.1 984.1,498.1 971.3,490.7" fill="#F27E1B" stroke="#F27E1B" stroke-width="1.6"/>
<polygon points="1016,466 1031,466 1031,493 1016,493 1020.4,476.8" fill="#E1640E" stroke="#E1640E" stroke-width="1.6"/>
<polygon points="997,500.3 1008.7,491.7 1016.1,485.3 1024.7,488.5 1030,488.5 1040.7,491.7 1050.3,490.7 1054.5,498.1 1046,506.7 1031,509.9 1026.8,515.2 1019.3,517.3 1008.7,528 1003.3,523.7 995.9,517.3 999.1,506.7" fill="#FFF0AE" stroke="#FFF0AE" stroke-width="1.6"/>
<polygon points="957.5,496 971.3,490.7 984.1,498.1 997,500.3 999.1,506.7 995.9,517.3 1003.3,523.7 1008.7,528 1001.2,538.7 992.7,535.5 982,534.4 966,535.5 960.7,533.3 964.9,525.9 969.2,515.2 960.7,501.3" fill="#FE9929" stroke="#FE9929" stroke-width="1.6"/>
<polygon points="956.4,540.8 966,535.5 982,534.4 992.7,535.5 1001.2,538.7 998,553.6 987.3,551.5 971.3,549.3 960.7,547.2" fill="#FEB642" stroke="#FEB642" stroke-width="1.6"/>
<polygon points="1001.2,538.7 1008.7,528 1019.3,517.3 1026.8,515.2 1031,509.9 1046,506.7 1042.8,517.3 1046,528 1056.7,549.3 1067.3,557.9 1014,560 999.1,554.7" fill="#FE9929" stroke="#FE9929" stroke-width="1.6"/>
<polygon points="1041.7,499.2 1059,499.2 1065.2,512 1065.2,538.7 1046,528 1042.8,517.3" fill="#CC4C02" stroke="#CC4C02" stroke-width="1.6"/>
<polygon points="1044,523 1064,523 1067,545 1067,558 1056.7,549.3 1046,532" fill="#E1640E" stroke="#E1640E" stroke-width="1.6"/>
<polygon points="1059.9,501.3 1067.3,503.5 1078,504.5 1085.5,512 1078,517.3 1080.1,528 1067.3,528 1064.1,512" fill="#FECE65" stroke="#FECE65" stroke-width="1.6"/>
<polygon points="1067.3,528 1080.1,528 1086.5,529.1 1094,529.1 1110,522.7 1110,560 1067.3,557.9 1064.1,538.7" fill="#F27E1B" stroke="#F27E1B" stroke-width="1.6"/>
<polygon points="1088.7,526.9 1101.5,521.6 1110,515.2 1130,514 1165,522 1160,535 1110,531.2 1099.3,531.2" fill="#FEE391" stroke="#FEE391" stroke-width="1.6"/>
<polygon points="1008,528 1019,517 1027,515 1031,510 1041,506 1045,530 1057,554 1044,560 1000,560 1001,538" fill="#FE9929" stroke="#FE9929" stroke-width="1.6"/>
<polygon points="1098.7,524.7 1108,515.3 1120,512 1133.3,516.7 1148,518.7 1163.3,522 1158.7,534 1149.3,535.3 1140,535.3 1134.7,538 1124,543.3 1120,543.3 1114.7,535.3 1114.7,530" fill="#FEE391" stroke="#FEE391" stroke-width="1.6"/>
<polygon points="1129,519 1160,519 1160,535 1129,535" fill="#FECE65" stroke="#FECE65" stroke-width="1.6"/>
<polygon points="1061.3,540.7 1064,532.7 1072,527.3 1080,523.3 1088,528.7 1093.3,529.3 1098.7,524.7 1114.7,530 1114.7,535.3 1120,543.3 1114.7,552.7 1106.7,554 1105.3,559.3 1096,567.3 1092,567.3 1080,556.7 1064,554" fill="#F27E1B" stroke="#F27E1B" stroke-width="1.6"/>
<polygon points="1041,505 1055,501 1062,503 1064,520 1064,533 1055,535 1045,530" fill="#CC4C02" stroke="#CC4C02" stroke-width="1.6"/>
<polygon points="958.7,540 997.3,540 1000,550.7 990.7,553.3 980,550.7 966.7,548 960,548" fill="#FEB642" stroke="#FEB642" stroke-width="1.6"/>
<polygon points="989.3,554.7 998.7,553.3 1001.3,561.3 1013.3,556 1014.7,564 1017.3,577.3 1021.3,590.7 1014.7,593.3 1001.3,593.3 996,585.3 988,580 988,566.7" fill="#CC4C02" stroke="#CC4C02" stroke-width="1.6"/>
<polygon points="1000,540 1050.7,540 1060,553.3 1046.7,566.7 1044,576 1033.3,578.7 1022.7,585.3 1017.3,577.3 1014.7,564 1013.3,556 1001.3,561.3 998.7,553.3" fill="#FE9929" stroke="#FE9929" stroke-width="1.6"/>
<polygon points="1020,548 1046.7,548 1046.7,560 1040,573.3 1025,573.3 1020,560" fill="#FEB642" stroke="#FEB642" stroke-width="1.6"/>
<polygon points="1045.3,570.7 1049.3,561.3 1066.7,554.7 1080,553.3 1093.3,564 1084,580 1068,594.7 1060,593.3 1052,590.7 1049.3,580" fill="#FEE391" stroke="#FEE391" stroke-width="1.6"/>
<polygon points="1070.7,560 1093.3,560 1093.3,583.3 1080,583.3" fill="#FEB642" stroke="#FEB642" stroke-width="1.6"/>
<polygon points="1030.7,580 1040,576 1050,578 1052,590 1047,596 1036,594" fill="#CC4C02" stroke="#CC4C02" stroke-width="1.6"/>
<polygon points="1021.3,590.7 1025,585 1033,583 1047,596 1060,593.3 1068,594.7 1060,610 1050,615 1035,610 1024,600" fill="#E1640E" stroke="#E1640E" stroke-width="1.6"/>
<polygon points="1057,600 1068,597 1080,598 1093,605 1090,620 1085,635 1075,641 1065,635 1058,620" fill="#CC4C02" stroke="#CC4C02" stroke-width="1.6"/>
<polygon points="1084,580 1093,575 1100,580 1109,601 1115,613 1120,623 1124,640 1130,660 1100,660 1093,641 1093,605 1080,598" fill="#FECE65" stroke="#FECE65" stroke-width="1.6"/>
<polygon points="1080,625 1095,623 1105,630 1113,645 1113,660 1095,665 1082,660 1080,640" fill="#FFFFE5" stroke="#FFFFE5" stroke-width="1.6"/>
<polygon points="988,632 996,620 1004,608 1015,610 1022,612 1023,620 1028,622 1030,640 1020,646 1005,647 995,642" fill="#F27E1B" stroke="#F27E1B" stroke-width="1.6"/>
<polygon points="1030.7,606 1040,608 1050,612 1058,615 1058,635 1040,640 1030,640" fill="#FE9929" stroke="#FE9929" stroke-width="1.6"/>
<polygon points="1024,612 1033,606 1034,618 1033,626 1028,622 1023,620" fill="#662506" stroke="#662506" stroke-width="1.6"/>
<polygon points="1000,646 1010,645 1020,646 1028,655 1035,670 1038,680 1025,683 1005,678 1000,665" fill="#FE9929" stroke="#FE9929" stroke-width="1.6"/>
<polygon points="1022,650 1035,640 1050,638 1060,640 1072,650 1070,668 1050,672 1035,668" fill="#FEE391" stroke="#FEE391" stroke-width="1.6"/>
<polygon points="1056,662 1065,660 1076,670 1070,676 1058,674" fill="#E1640E" stroke="#E1640E" stroke-width="1.6"/>
<polygon points="1080,660 1113,660 1127,665 1135,687 1110,690 1080,687" fill="#FFF0AE" stroke="#FFF0AE" stroke-width="1.6"/>
<polygon points="1033,673 1080,673 1080,713 1033,713" fill="#FEE391" stroke="#FEE391" stroke-width="1.6"/>
<polygon points="1009,680 1036,680 1036,713 1009,713" fill="#FFFFE5" stroke="#FFFFE5" stroke-width="1.6"/>
<polygon points="967,673 1009,673 1009,713 967,713" fill="#FECE65" stroke="#FECE65" stroke-width="1.6"/>
<polygon points="980,697 985,695 990,705 985,709 980,708" fill="#AA3C03" stroke="#AA3C03" stroke-width="1.6"/>
<polygon points="940,553 960,553 960,576 940,576" fill="#FFFFE5" stroke="#FFFFE5" stroke-width="1.6"/>
<polygon points="956,560 987,560 987,587 956,587" fill="#FFFACA" stroke="#FFFACA" stroke-width="1.6"/>
<polygon points="968,558 983,557 983,568 974,571 968,568" fill="#D9D9D9" stroke="#D9D9D9" stroke-width="1.6"/>
<polygon points="940,584 970.7,584 970.7,600 940,600" fill="#F27E1B" stroke="#F27E1B" stroke-width="1.6"/>
<polygon points="940,600 993,600 993,647 940,647" fill="#FECE65" stroke="#FECE65" stroke-width="1.6"/>
<polygon points="960,644 1009,644 1009,673 960,673" fill="#FEE391" stroke="#FEE391" stroke-width="1.6"/>
<polygon points="940,671 956,671 956,691 940,691" fill="#D9D9D9" stroke="#D9D9D9" stroke-width="1.6"/>
<polygon points="940,707 967,707 967,724 940,724" fill="#FEB642" stroke="#FEB642" stroke-width="1.6"/>
<polygon points="957,713 1033,713 1033,740 957,740" fill="#FEE391" stroke="#FEE391" stroke-width="1.6"/>
<polygon points="1024,713 1060,713 1060,740 1024,740" fill="#FEB642" stroke="#FEB642" stroke-width="1.6"/>
<polygon points="989,733 1000,733 1000,740 989,740" fill="#CC4C02" stroke="#CC4C02" stroke-width="1.6"/>
<polygon points="1087,687 1140,687 1140,740 1087,740" fill="#FFF0AE" stroke="#FFF0AE" stroke-width="1.6"/>
<polygon points="780,566 795,570 800,565 810,568 826,575 829,585 800,585 780,581" fill="#D9D9D9" stroke="#D9D9D9" stroke-width="1.6"/>
<polygon points="797,583 826,585 833,590 832,605 825,615 810,617 798,612 796,595" fill="#CC4C02" stroke="#CC4C02" stroke-width="1.6"/>
<polygon points="829,578 845,575 860,572 880,567 890,563 891,590 870,603 855,610 840,612 830,610" fill="#FE9929" stroke="#FE9929" stroke-width="1.6"/>
<polygon points="847,560 891,560 891,573 847,573" fill="#FFFFE5" stroke="#FFFFE5" stroke-width="1.6"/>
<polygon points="846,625 860,612 870,603 880,598 890,600 900,610 900,628 890,630 870,630 855,630" fill="#AA3C03" stroke="#AA3C03" stroke-width="1.6"/>
<polygon points="884,570 900,563 915,565 924,577 920,584 905,585 893,590 887,593" fill="#FE9929" stroke="#FE9929" stroke-width="1.6"/>
<polygon points="887,597 893,590 905,585 920,584 921,595 905,605 903,620 895,615 887,608" fill="#CC4C02" stroke="#CC4C02" stroke-width="1.6"/>
<polygon points="921,560 959,560 959,577 921,577" fill="#FFFFE5" stroke="#FFFFE5" stroke-width="1.6"/>
<polygon points="905,605 921,595 940,590 960,590 963,615 963,640 950,648 930,650 915,640 903,628" fill="#FEB642" stroke="#FEB642" stroke-width="1.6"/>
<polygon points="940,588 960,585 971,590 965,600 945,600" fill="#F27E1B" stroke="#F27E1B" stroke-width="1.6"/>
<polygon points="783,625 797,617 810,618 833,615 835,640 835,653 810,645 790,640 783,635" fill="#FEB642" stroke="#FEB642" stroke-width="1.6"/>
<polygon points="833,615 855,615 870,630 880,640 880,655 870,665 850,660 838,650 835,635" fill="#FFF0AE" stroke="#FFF0AE" stroke-width="1.6"/>
<polygon points="867,640 880,630 900,630 920,640 940,650 963,652 960,670 930,676 900,675 880,670 868,660" fill="#FEE391" stroke="#FEE391" stroke-width="1.6"/>
<polygon points="780,640 797,640 810,648 835,655 844,665 840,690 830,700 800,700 780,695" fill="#FEE391" stroke="#FEE391" stroke-width="1.6"/>
<polygon points="844,653 881,653 881,693 844,693" fill="#FEE391" stroke="#FEE391" stroke-width="1.6"/>
<polygon points="804,690 818,670 832,655 845,655 843,667 830,685 818,698 808,700" fill="#FFFFE5" stroke="#FFFFE5" stroke-width="1.6"/>
<polygon points="788,697 800,690 812,692 816,702 808,709 795,708" fill="#E1640E" stroke="#E1640E" stroke-width="1.6"/>
<polygon points="881,667 927,667 927,707 881,707" fill="#FEE391" stroke="#FEE391" stroke-width="1.6"/>
<polygon points="879,668 888,664 897,667 895,674 885,676" fill="#D9D9D9" stroke="#D9D9D9" stroke-width="1.6"/>
<polygon points="920,680 935,673 950,672 956,680 948,690 945,705 935,705 925,695" fill="#D9D9D9" stroke="#D9D9D9" stroke-width="1.6"/>
<polygon points="936,688 955,688 955,701 936,701" fill="#FFFFE5" stroke="#FFFFE5" stroke-width="1.6"/>
<polygon points="953,653 980,653 980,707 953,707" fill="#FECE65" stroke="#FECE65" stroke-width="1.6"/>
<polygon points="907,705 930,700 950,703 967,705 960,715 940,720 925,718 910,715" fill="#FEB642" stroke="#FEB642" stroke-width="1.6"/>
<polygon points="843,697 891,697 891,733 843,733" fill="#FECE65" stroke="#FECE65" stroke-width="1.6"/>
<polygon points="833,700 863,700 863,760 833,760" fill="#FFF0AE" stroke="#FFF0AE" stroke-width="1.6"/>
<polygon points="780,700 833,700 833,760 780,760" fill="#FEE391" stroke="#FEE391" stroke-width="1.6"/>
<polygon points="900,715 960,715 960,760 900,760" fill="#FEE391" stroke="#FEE391" stroke-width="1.6"/>
<polygon points="863,730 875,718 895,716 907,720 905,730 897,740 890,760 863,760" fill="#D9D9D9" stroke="#D9D9D9" stroke-width="1.6"/>
<polygon points="881,760 884,745 895,736 901,740 898,752 895,760" fill="#882F05" stroke="#882F05" stroke-width="1.6"/>
<polygon points="927,724 947,724 947,747 927,747" fill="#FFFFE5" stroke="#FFFFE5" stroke-width="1.6"/>
<polygon points="953,707 980,707 980,760 953,760" fill="#FFF0AE" stroke="#FFF0AE" stroke-width="1.6"/>
<polygon points="971,740 980,740 980,760 971,760" fill="#E1640E" stroke="#E1640E" stroke-width="1.6"/>
<polygon points="780,740 867,740 867,833 780,833" fill="#FECE65" stroke="#FECE65" stroke-width="1.6"/>
<polygon points="828,740 867,740 867,780 835,780" fill="#FEE391" stroke="#FEE391" stroke-width="1.6"/>
<polygon points="790.7,785 805,777 816,785 814,800 800,807 792,800" fill="#FEE391" stroke="#FEE391" stroke-width="1.6"/>
<polygon points="780,769 803,769 803,797 780,797" fill="#FEB642" stroke="#FEB642" stroke-width="1.6"/>
<polygon points="862.7,740 881.3,740 881.3,748 880,757.3 870.7,762.7 865.3,772 862.7,765" fill="#D9D9D9" stroke="#D9D9D9" stroke-width="1.6"/>
<polygon points="881.3,740 901.3,740 900,745.3 894.7,753.3 898.7,762.7 896,770.7 886.7,782.7 881.3,786.7 877.3,793.3 878.7,801.3 873.3,809.3 872,816 865.3,812 862.7,805.3 865.3,794.7 862.7,786.7 852,786.7 854.7,781.3 865.3,772 870.7,762.7 880,757.3 881.3,748" fill="#882F05" stroke="#882F05" stroke-width="1.6"/>
<polygon points="896,750.7 913.3,746.7 924,749.3 934.7,740 940,746.7 937.3,756 944,766.7 933.3,773.3 924,780 913.3,773.3 902.7,770.7 898.7,762.7" fill="#FFFFE5" stroke="#FFFFE5" stroke-width="1.6"/>
<polygon points="924,749.3 934.7,740 960,740 973,745 973,765 955,772 940,770 937.3,756" fill="#FECE65" stroke="#FECE65" stroke-width="1.6"/>
<polygon points="881.3,786.7 886.7,782.7 896,770.7 902.7,770.7 913.3,773.3 922.7,780 920,786.7 908,789.3 905.3,801.3 897.3,805.3 889.3,804 882.7,810.7 877.3,806.7 878.7,801.3 877.3,793.3" fill="#FEB642" stroke="#FEB642" stroke-width="1.6"/>
<polygon points="906.7,790.7 920,786.7 926.7,780 940,773.3 953.3,780 950.7,793.3 937.3,796 929.3,809.3 930.7,822.7 926.7,833.3 913.3,841.3 908,836 901.3,838.7 900,833.3 906.7,820 904,806.7" fill="#FEE391" stroke="#FEE391" stroke-width="1.6"/>
<polygon points="928,809.3 937.3,806.7 948,793.3 953.3,794.7 956,806.7 966.7,812 966.7,825.3 953.3,828 945.3,833.3 942.7,841.3 940,836 933.3,833.3 930.7,822.7" fill="#E1640E" stroke="#E1640E" stroke-width="1.6"/>
<polygon points="965,740 980,740 980,812 965,812" fill="#F27E1B" stroke="#F27E1B" stroke-width="1.6"/>
<polygon points="798.7,833.3 810.7,825.3 824,833.3 837.3,826.7 846.7,822.7 860,817.3 872,816 873.3,826.7 870.7,837.3 880,846.7 873.3,857.3 862.7,862.7 852,856 844,862.7 833.3,868 820,862.7 809.3,860 805.3,846.7" fill="#FFFACA" stroke="#FFFACA" stroke-width="1.6"/>
<polygon points="846.7,822.7 860,817.3 872,816 873.3,826.7 870.7,837.3 880,846.7 873.3,857.3 862.7,862.7 852,856 850,840" fill="#FFFFE5" stroke="#FFFFE5" stroke-width="1.6"/>
<polygon points="870.7,820 886.7,810.7 897.3,805.3 905.3,804 906.7,817.3 900,833.3 901.3,846.7 897.3,856 881.3,856 880,846.7 870.7,837.3" fill="#FFF0AE" stroke="#FFF0AE" stroke-width="1.6"/>
<polygon points="900,833.3 908,836 913.3,841.3 926.7,833.3 926.7,844 920,846.7 912,846.7 908,838.7 901.3,846.7" fill="#FEE391" stroke="#FEE391" stroke-width="1.6"/>
<polygon points="780,825.3 798.7,833.3 805.3,846.7 809.3,860 820,862.7 829.3,873.3 820,884 833.3,900 826.7,909.3 821.3,924 806.7,913.3 801.3,902.7 800,893.3 780,886.7" fill="#D9D9D9" stroke="#D9D9D9" stroke-width="1.6"/>
<polygon points="844,862.7 852,856 862.7,862.7 873.3,857.3 880,856 897.3,856 905,860 915,870 920,880 910,900 900,895 885,890 870,900 860,890 845,880 842.7,870" fill="#D9D9D9" stroke="#D9D9D9" stroke-width="1.6"/>
<polygon points="898.7,846 905,838 920,836 925,845 920,857 905,857" fill="#D9D9D9" stroke="#D9D9D9" stroke-width="1.6"/>
<polygon points="820,884 829,873 840,870 850,878 860,890 868,905 860,909 840,909 830,900" fill="#FFFFE5" stroke="#FFFFE5" stroke-width="1.6"/>
<polygon points="837,905 850,900 870,900 885,890 896,900 896,915 885,925 860,925 845,920" fill="#FFF0AE" stroke="#FFF0AE" stroke-width="1.6"/>
<polygon points="852,918 865,916 871,920 870,929 855,929" fill="#D9D9D9" stroke="#D9D9D9" stroke-width="1.6"/>
<polygon points="822.7,924 826.7,909 836,906 845,915 845,926 830,927" fill="#F27E1B" stroke="#F27E1B" stroke-width="1.6"/>
<polygon points="887,905 898,897 913,900 913,925 895,927 887,920" fill="#FECE65" stroke="#FECE65" stroke-width="1.6"/>
<polygon points="913,846 967,846 967,927 913,927 910,900 920,880" fill="#FFFACA" stroke="#FFFACA" stroke-width="1.6"/>
<polygon points="930,850 955,850 960,880 945,895 930,885" fill="#FFFFE5" stroke="#FFFFE5" stroke-width="1.6"/>
<polygon points="946.7,908 955,900 958.7,905 955,916 948,916" fill="#FEB642" stroke="#FEB642" stroke-width="1.6"/>
<polygon points="964,860 980,860 980,900 964,900" fill="#FEE391" stroke="#FEE391" stroke-width="1.6"/>
<polygon points="980,720 1067,720 1067,764 980,764" fill="#FECE65" stroke="#FECE65" stroke-width="1.6"/>
<polygon points="967,728 1004,728 1004,747 967,747" fill="#FFFFE5" stroke="#FFFFE5" stroke-width="1.6"/>
<polygon points="1032,720 1045,720 1045,740 1032,740" fill="#FEB642" stroke="#FEB642" stroke-width="1.6"/>
<polygon points="1061,720 1127,720 1127,773 1061,773" fill="#FFFFE5" stroke="#FFFFE5" stroke-width="1.6"/>
<polygon points="1093,747 1147,747 1147,800 1093,800" fill="#FFFACA" stroke="#FFFACA" stroke-width="1.6"/>
<polygon points="972,742.7 989.3,738.7 992,734.7 998.7,734.7 1001.3,746.7 1004,752 1013.3,756 1005.3,766.7 1001.3,773.3 986.7,773.3 973.3,773.3 966.7,764 970.7,753.3" fill="#E1640E" stroke="#E1640E" stroke-width="1.6"/>
<polygon points="978.7,761.3 992,760 997.3,765.3 986.7,769.3 980,772" fill="#882F05" stroke="#882F05" stroke-width="1.6"/>
<polygon points="1004,770.7 1005.3,766.7 1013.3,756 1025.3,752 1034.7,762.7 1040,766.7 1037.3,773.3 1037.3,784 1024,792 1022.7,798.7 1018.7,800 1016,786.7 1013.3,784 1008,785.3 1004,780" fill="#CC4C02" stroke="#CC4C02" stroke-width="1.6"/>
<polygon points="965.3,793.3 966.7,776 973.3,773.3 1001.3,773.3 1004,780 1008,785.3 1000,794.7 992,800 990.7,806.7 978.7,808 970.7,810.7 968,801.3" fill="#F27E1B" stroke="#F27E1B" stroke-width="1.6"/>
<polygon points="960,808 970.7,810.7 965.3,826.7 960,829.3" fill="#E1640E" stroke="#E1640E" stroke-width="1.6"/>
<polygon points="1036,770.7 1046.7,764 1056,760 1066.7,756 1074.7,757.3 1077.3,776 1084,778.7 1076,789.3 1072,802.7 1060,804 1042.7,786.7 1037.3,784 1037.3,773.3" fill="#F27E1B" stroke="#F27E1B" stroke-width="1.6"/>
<polygon points="1024,792 1037.3,784 1042.7,786.7 1060,804 1072,802.7 1068,813.3 1056,824 1052,821.3 1040,818.7 1030.7,813.3 1024,810.7 1022.7,798.7" fill="#E1640E" stroke="#E1640E" stroke-width="1.6"/>
<polygon points="1010.7,837.3 1013.3,822.7 1018.7,813.3 1024,810.7 1030.7,813.3 1040,818.7 1052,821.3 1048,830.7 1037.3,840 1034.7,850.7 1024,848 1017.3,842.7" fill="#FE9929" stroke="#FE9929" stroke-width="1.6"/>
<polygon points="960,833 1035,833 1040,874.7 1035,900 960,905" fill="#FFFACA" stroke="#FFFACA" stroke-width="1.6"/>
<polygon points="966.7,813.3 978.7,808 990.7,806.7 992,800 1000,794.7 1008,785.3 1013.3,784 1016,786.7 1018.7,800 1022.7,802.7 1018.7,813.3 1013.3,822.7 1010.7,837.3 1008,846.7 992,845.3 976,850.7 972,846.7 977.3,840 984,832 982.7,829.3 968,830.7 966.7,824" fill="#FFFFE5" stroke="#FFFFE5" stroke-width="1.6"/>
<polygon points="1069,771 1107,771 1107,803 1069,803" fill="#FFFACA" stroke="#FFFACA" stroke-width="1.6"/>
<polygon points="1032,850.7 1037.3,840 1048,830.7 1056,824 1068,813.3 1072,802.7 1076,794.7 1088,797.3 1093.3,794.7 1098.7,800 1094.7,813.3 1093.3,821.3 1085.3,826.7 1074.7,837.3 1066.7,848 1056,860 1048,870.7 1040,874.7 1034.7,866.7" fill="#FFF0AE" stroke="#FFF0AE" stroke-width="1.6"/>
<polygon points="1067,800 1092,800 1088,830 1075,838 1067,830" fill="#FEE391" stroke="#FEE391" stroke-width="1.6"/>
<polygon points="1056,841 1064,841 1064,851 1056,851" fill="#FECE65" stroke="#FECE65" stroke-width="1.6"/>
<polygon points="1019,880 1030,874 1033,878 1028,887 1020,888" fill="#FEB642" stroke="#FEB642" stroke-width="1.6"/>
<polygon points="1100,820 1150,820 1150,930 1100,930" fill="#FEB642" stroke="#FEB642" stroke-width="1.6"/>
<polygon points="637,804.8 641.8,800 650.9,797 663.6,802 673.7,809.6 671.2,827.3 666.1,842.6 656,842.6 648.4,832.4 635.7,827.3 632.2,816.8 632.2,809" fill="#FFF0AE" stroke="#FFF0AE" stroke-width="1.6"/>
<polygon points="605,822 620,817 627.4,823.4 628.6,819.8 632.2,816.8 635.7,827.3 648.4,832.4 656,842.6 663.6,847.6 663.6,865.4 656,883.1 638.3,886.9 628.1,878 624.3,862.8 618,850.2 612.9,835 605,828" fill="#FE9929" stroke="#FE9929" stroke-width="1.6"/>
<polygon points="673.7,809.6 686.4,802 701.6,807.1 706.7,822.3 704.1,842.6 699.1,855.2 686.4,855.2 671.2,842.6 671.2,827.3" fill="#FEB642" stroke="#FEB642" stroke-width="1.6"/>
<polygon points="706.7,807.1 721.9,804.6 737.1,812.1 732,827.3 742.1,852.7 737.1,865.4 739.6,890.7 732,898.3 716.8,900.8 699.1,893.2 696.5,883.1 701.6,870.4 716.8,865.4 721.9,850.2 704.1,842.6 706.7,822.3" fill="#FECE65" stroke="#FECE65" stroke-width="1.6"/>
<polygon points="653.5,913.5 663.6,903.4 681.3,900.8 689,905.9 691.5,918.6 694,936.3 681.3,936.3 678.8,926.2 661.1,928.7 653.5,923.6 650,915" fill="#CC4C02" stroke="#CC4C02" stroke-width="1.6"/>
<polygon points="840,960 910,960 910,1015 840,1015" fill="#FFF0AE" stroke="#FFF0AE" stroke-width="1.6"/>
<polygon points="865,925 893,925 893,962 865,962" fill="#FFFFE5" stroke="#FFFFE5" stroke-width="1.6"/>
<polygon points="1192,340 1247,340 1247,375 1192,375" fill="#FE9929" stroke="#FE9929" stroke-width="1.6"/>
<polygon points="1233,351 1276,351 1276,385 1233,385" fill="#FEB642" stroke="#FEB642" stroke-width="1.6"/>
<polygon points="1270,340 1300,340 1300,404 1270,404" fill="#FFF0AE" stroke="#FFF0AE" stroke-width="1.6"/>
<polygon points="1177,351 1192,352 1205,360 1209,375 1202,382 1195,378 1185,370 1180,365" fill="#E1640E" stroke="#E1640E" stroke-width="1.6"/>
<polygon points="1183,372 1195,365 1205,368 1210,380 1214,395 1200,398 1187,402 1181,392" fill="#FECE65" stroke="#FECE65" stroke-width="1.6"/>
<polygon points="1157,395 1170,385 1180,382 1186,395 1185,420 1178,432 1165,436 1160,420" fill="#F27E1B" stroke="#F27E1B" stroke-width="1.6"/>
<polygon points="1140,402 1159,402 1159,438 1140,438" fill="#CC4C02" stroke="#CC4C02" stroke-width="1.6"/>
<polygon points="1151,415 1185,415 1185,457 1151,457" fill="#FECE65" stroke="#FECE65" stroke-width="1.6"/>
<polygon points="1161,415 1184,415 1184,436 1161,436" fill="#E1640E" stroke="#E1640E" stroke-width="1.6"/>
<polygon points="1183,423 1195,418 1210,420 1221,417 1228,425 1231,433 1220,440 1210,446 1200,452 1190,458 1183,455" fill="#FE9929" stroke="#FE9929" stroke-width="1.6"/>
<polygon points="1186,405 1200,395 1210,393 1220,395 1222,410 1218,420 1205,422 1198,418 1190,420" fill="#FFFFE5" stroke="#FFFFE5" stroke-width="1.6"/>
<polygon points="1221,395 1230,385 1247,385 1250,395 1242,405 1248,412 1245,420 1237,428 1232,434 1228,425 1224,410" fill="#FFFACA" stroke="#FFFACA" stroke-width="1.6"/>
<polygon points="1240,405 1249,398 1252,385 1262,384 1264,388 1275,385 1280,392 1283,402 1289,415 1285,420 1270,418 1262,410 1250,417 1248,410" fill="#AA3C03" stroke="#AA3C03" stroke-width="1.6"/>
<polygon points="787,697 795,691 805,690 812,692 816,700 815,708 808,711 800,709 793,708" fill="#E1640E" stroke="#E1640E" stroke-width="1.6"/>
<polygon points="801,462 806,459 809,470 812,478 807,480 803,472 800,468" fill="#882F05" stroke="#882F05" stroke-width="1.6"/>
<polygon points="990,590 1025,588 1030,600 1025,610 995,610 988,600" fill="#FE9929" stroke="#FE9929" stroke-width="1.6"/>
<polygon points="613.6,752 616.6,755.6 617.2,758.6 620.8,757.4 624.4,758.6 626.2,765.2 628.6,771.2 629.8,779 630.4,786.8 637,786.2 641.8,788 644.8,795.8 641.8,800 637,804.8 632.2,809 632.2,816.8 628.6,819.8 627.4,823.4 620,823.4 600,800 600,752" fill="#882F05" stroke="#882F05" stroke-width="1.6"/>
<polygon points="771,808 778,800 790,798 798,800 800,815 797,828 785,826 778,820 772,815" fill="#882F05" stroke="#882F05" stroke-width="1.6"/>
<polygon points="963,868 985,865 995,878 990,895 968,902 962,890" fill="#FEE391" stroke="#FEE391" stroke-width="1.6"/>
<polygon points="990,870 1010,872 1027,880 1027,889 1004.7,894.7 990,895" fill="#FFF0AE" stroke="#FFF0AE" stroke-width="1.6"/>
</g>
<polyline points="1234,175 1222,196 1216,226 1204,247 1198,238 1180,250 1157.5,263.5 1166.7,275 1173.3,293.3 1175,295 1190,295 1193.3,310 1203.4,315.2 1230.4,317 1246.6,322.4 1259.2,326 1259.2,336.8 1270,342.2 1280.8,349.4 1295.2,336.8 1306,333.2 1320.4,336.8 1334.8,331.4 1338.4,342.2 1352.8,344 1356.4,353" fill="none" stroke="#5a5a5a" stroke-width="1"/>
<polyline points="1141.7,301.7 1148.3,306.7 1150,315 1150,340 1153.3,346.7 1173.3,341.7 1176.7,348.3 1180,354.8 1208.8,353 1212.4,380 1221.4,387.2 1252,385.4 1257.4,398 1266.4,407 1277.2,403.4 1284.4,407 1288,416" fill="none" stroke="#5a5a5a" stroke-width="1"/>
<polyline points="1141.7,301.7 1130,290 1120,271.7 1115,265 1105,261.7 1093.3,265" fill="none" stroke="#5a5a5a" stroke-width="1"/>
<polyline points="1180,354.8 1176.7,380 1156.7,383.3 1140,390 1125,396.7 1132.3,392.1" fill="none" stroke="#5a5a5a" stroke-width="1"/>
<polyline points="680,480.8 686.4,487.2 693.9,478.7 708.8,475.5 720.5,477.6 738.7,470.1 744,470.1 747.2,479.7 742.9,485.1 732.3,494.7 729.1,506.4 739.7,516 747.2,521.3 753.6,519.2 768.5,514.9 782.4,511.7 783.5,494.7 786.7,481.9 793.1,475.5 800.5,472.3 804.8,471.2 808,479.7 798.4,497.9 813.3,503.2 821.9,510.7 830,511.7" fill="none" stroke="#5a5a5a" stroke-width="1"/>
<polyline points="739.7,516 756.8,525.6 772.8,537.3 777.1,553.3 773.9,556.5 774.9,561.9 782.4,567.2 797.3,572.5 808,564 809.1,553.3 799.5,550.1 800.5,532 817.6,526.7 817.6,513.9 823,510.7" fill="none" stroke="#5a5a5a" stroke-width="1"/>
<polyline points="589.3,384.8 605.3,414.7 600,418.7 616,438.7 629.3,434.7 648,432.5 657.3,436 656,446.7 641.3,458.7 656,465.3 672,472 680,480.8" fill="none" stroke="#5a5a5a" stroke-width="1"/>
<polyline points="315,563.3 330,565 343.3,553.3 370,548.3 393.3,545 416.7,551.7 430,550 453.3,555" fill="none" stroke="#5a5a5a" stroke-width="1"/>
<polyline points="453.3,555 453.3,546.7 445,538.3 456.7,530 443.3,513.3 440,498.3 431.7,495 482.7,478.7 492,460 494.7,441.3 514.7,437.3 514.7,432 545.3,412 565.3,405.3 564,390.7 572,385.3" fill="none" stroke="#5a5a5a" stroke-width="1"/>
<polyline points="416.7,556.7 423.3,563.3 418.3,576.7 425,590 421.7,606.7 433.3,623.3 450,628 470,636.7 490,640 510,646.7 531.7,643.3 540,652 550,660 570,668.3 583.3,658.3 593.3,646.7 596.7,623.3 595,613.3 606.7,603.3 617.3,606.7 622.7,618.7" fill="none" stroke="#5a5a5a" stroke-width="1"/>
<polyline points="622.7,618.7 626.7,628 640,637.3 650.7,633.3 657.3,640 666.7,642.7 680,640 686.7,630.7 693.3,622.7 704,608" fill="none" stroke="#5a5a5a" stroke-width="1"/>
<polyline points="593.3,646.7 610,646.7 613.3,650.7 617.3,661.3 626.7,674.7 622.7,677.3 628,690.7 630.7,697.3 632,709.3 630.7,720 633.3,733.3 634.7,746.7 638.7,757.3" fill="none" stroke="#5a5a5a" stroke-width="1"/>
<polyline points="612.9,752.6 621.3,745.3 622.7,737.3 633.3,733.3" fill="none" stroke="#5a5a5a" stroke-width="1"/>
<polyline points="638.7,757.3 646.7,741.3 656,752 660,768 668,765.3 674.7,777.3 682.7,792 690,800 696.5,807.1 710,805 719.3,802 718.7,793.3 718.7,777.3 722.7,772 733.3,758.7 738.7,746.7 752,746.7 752,757.3 756,765.3 770.7,760 773.3,768" fill="none" stroke="#5a5a5a" stroke-width="1"/>
<polyline points="482.7,478.7 498.7,477.3 501.3,484 525.3,485.3 530.7,497.3 570.7,501.3 584,492 586.7,477.3 597.3,477.3 600,481.3 610.7,485.3 616,480 626.7,480.7 634.7,484 644,490.7 653.3,493.3 662.7,500 673.3,505.3 682.7,510.7 693.3,514 700,514.7 706.7,522.7 712,529.3 709.3,532 713.3,538.7 717.3,546.7 720,552 717.3,557.3 716,565.3 710.7,570.7 705.3,573.3 706.7,578.7 700,584 697.3,586.7 698.7,594.7 704,598.7 700,604 704,608 716,602.7 725.3,605.3 733.3,614.7 745.3,618.7 750.7,626.7" fill="none" stroke="#5a5a5a" stroke-width="1"/>
<polyline points="830,511.7 833.6,514.4 850.9,507.5 854.4,500.5 864.8,490.1 878.7,472.8 896,469.3 902.9,469.3" fill="none" stroke="#5a5a5a" stroke-width="1"/>
<polyline points="902.9,469.3 899.5,483.2 890.8,500.5 892.5,517.9 887.3,531.7 889.1,556 883.9,590.7" fill="none" stroke="#5a5a5a" stroke-width="1"/>
<polyline points="902.9,469.3 913.3,465.9 927.2,450.3 948,445.1 968.8,443.3 975.7,446.8" fill="none" stroke="#5a5a5a" stroke-width="1"/>
<polyline points="965.9,423.3 964.1,432 978,449.3 967.6,454.5 976.3,470.1 964.1,484 958.9,497.9 965.9,511.7 967.6,523.9 957.2,539.5 960.7,549.9" fill="none" stroke="#5a5a5a" stroke-width="1"/>
<polyline points="883.9,590.7 890.8,587.2 923.7,576.8 948,573.3 960.1,566.4 961.9,550.8" fill="none" stroke="#5a5a5a" stroke-width="1"/>
<polyline points="960.7,549.9 969.3,553.3 986.7,555.1 997.1,553.3" fill="none" stroke="#5a5a5a" stroke-width="1"/>
<polyline points="883.9,590.7 887.3,599.3 892.5,613.2 899.5,625.3 901.3,628" fill="none" stroke="#5a5a5a" stroke-width="1"/>
<polyline points="809.1,553.3 797.2,543.9 779.9,552.5 772.9,557.7 774.7,561.2 798.9,582 800.7,590.7 797.2,616.7 785.1,625.3 780,638.7" fill="none" stroke="#5a5a5a" stroke-width="1"/>
<polyline points="740,517.9 753.9,521.3 772.9,556" fill="none" stroke="#5a5a5a" stroke-width="1"/>
<polyline points="750.4,637.5 774.7,637.5 780,638.7 793.3,642.7 809.3,641.3 820,648 833.3,653.3 842.7,653.3 860,666.7 868,666.7" fill="none" stroke="#5a5a5a" stroke-width="1"/>
<polyline points="901.3,628 893.3,630.7 873.3,633.3 881.3,642.7 868,646.7 868,666.7 877.3,672 881.3,677.3" fill="none" stroke="#5a5a5a" stroke-width="1"/>
<polyline points="901.3,628 908,640 924,650.7 948,649.3 960,650.7 962.7,661.3 977.3,666.7" fill="none" stroke="#5a5a5a" stroke-width="1"/>
<polyline points="965.9,423.3 974.5,404.3 984.9,402.5 988.4,413.8 997.1,412.9 1012.7,406 1021.3,404.3 1035.2,392.1 1050.8,388.7 1062.9,402.5 1066.4,421.6 1083.7,421.6" fill="none" stroke="#5a5a5a" stroke-width="1"/>
<polyline points="1083.7,421.6 1078.5,433.7 1087.2,442.4 1092.4,442.4 1097.6,454.5" fill="none" stroke="#5a5a5a" stroke-width="1"/>
<polyline points="1083.7,421.6 1087.2,397.3 1092.4,395.6 1102.8,411.2 1111.5,402.5 1121.9,397.3 1132.3,392.1 1160,380 1180,370" fill="none" stroke="#5a5a5a" stroke-width="1"/>
<polyline points="1000.5,458 1004,445.9 1007.5,440.7 1021.3,432 1028.3,430.3 1042.1,439 1045.6,445.9 1043.9,454.5 1031.7,459.7 1021.3,464.9 1014.4,466.7 1004,463.2 1000.5,458" fill="none" stroke="#5a5a5a" stroke-width="1"/>
<polyline points="1045.6,445.9 1049.1,456.3 1056,464.9 1052.5,473.6 1052.5,484 1047.3,490.9 1035.2,490.9 1030,484 1033.5,466.7 1043.9,454.5" fill="none" stroke="#5a5a5a" stroke-width="1"/>
<polyline points="1052.5,497.9 1038.7,508.3 1024.8,516.9 1012.7,523.9 1005.7,532.5 998.8,542.9 997.1,553.3" fill="none" stroke="#5a5a5a" stroke-width="1"/>
<polyline points="997.1,553.3 990.1,560.3 988.4,579.3 997.1,586.3 1007.5,596.7 1017.9,594.9" fill="none" stroke="#5a5a5a" stroke-width="1"/>
<polyline points="1017.9,594.9 1021.3,584.5 1035.2,588 1045.6,594.9 1061.2,598.4 1073.3,593.2 1083.7,584.5" fill="none" stroke="#5a5a5a" stroke-width="1"/>
<polyline points="1017.9,594.9 1004,607.1 998.8,617.5 988.4,626.1 990.1,640 1000,648 1010.7,644.8 1010.7,621.3 1003.2,608.5" fill="none" stroke="#5a5a5a" stroke-width="1"/>
<polyline points="1024.8,598.4 1033.5,605.3 1052.5,617.5 1056.5,613.9 1061.9,625.6 1066.1,639.5 1074.7,642.7 1083.2,636.3 1085.3,642.7 1070.4,644.8 1064,653.3 1066.1,659.7 1072.5,666.1 1076.8,674.7 1073.6,677.9" fill="none" stroke="#5a5a5a" stroke-width="1"/>
<polyline points="1072.5,677.9 1087.5,677.9 1093.9,682.1 1101.3,682.1 1110.9,689.6 1117.3,687.5 1123.7,683.2 1128,673.6" fill="none" stroke="#5a5a5a" stroke-width="1"/>
<polyline points="1059.7,725.9 1066.1,722.7 1076.8,706.7 1085.3,702.4 1087.5,696 1091.7,685.3 1093.9,682.1" fill="none" stroke="#5a5a5a" stroke-width="1"/>
<polyline points="1000,715.2 1010.7,717.3 1026.7,709.9 1032,712 1035.2,714.1 1044.8,719.5 1053.3,721.6 1059.7,725.9 1064,735" fill="none" stroke="#5a5a5a" stroke-width="1"/>
<polyline points="977.3,666.7 1000,669.3 1010.7,682.1 1008.5,691.7 1014.9,706.7 1010.7,715.2 1000,715.2" fill="none" stroke="#5a5a5a" stroke-width="1"/>
<polyline points="881.3,677.3 878.7,688 862.7,697.3 845.3,698.7 841.3,705.3 844,713.3 850.7,725.3 860,730.7" fill="none" stroke="#5a5a5a" stroke-width="1"/>
<polyline points="842.7,653.3 837.3,664 842.7,666.7 833.3,680 826.7,688 818.7,697.3 806.7,702.7 797.3,698.7 788,704 780,702.7 773,700" fill="none" stroke="#5a5a5a" stroke-width="1"/>
<polyline points="780,729.3 798.7,733.3 806.7,738.7 820,730.7 833.3,737.3 840,744 846.7,754.7 860,758.7" fill="none" stroke="#5a5a5a" stroke-width="1"/>
<polyline points="881.3,677.3 890.7,709.3 897.3,708 913.3,713.3 926.7,718.7 940,717.3 944,720 957.3,716 961.3,733.3 969.3,734.7" fill="none" stroke="#5a5a5a" stroke-width="1"/>
<polyline points="890.7,709.3 888,714.7 876,717.3 865.3,720 862.7,733.3 861.3,760 862.7,753.3 865.3,773.3 862.7,786.7 865.3,796 862.7,809.3 854.7,818.7" fill="none" stroke="#5a5a5a" stroke-width="1"/>
<polyline points="854.7,818.7 846.7,825.3 837.3,826.7 824,833.3 812,825.3 800,833.3 786.7,841.3 780,844" fill="none" stroke="#5a5a5a" stroke-width="1"/>
<polyline points="854.7,818.7 872,816 878.7,812 889.3,805.3 900,804 906.7,814.7 900,826.7 900,838.7" fill="none" stroke="#5a5a5a" stroke-width="1"/>
<polyline points="900,838.7 912,845.3 924,833.3 940,836 945.3,841.3 962.7,830.7 966.7,820" fill="none" stroke="#5a5a5a" stroke-width="1"/>
<polyline points="900,838.7 906.7,846.7 920,849.3 921.3,860 913.3,873.3 908,886.7 902.7,900 894.7,909.3 886.7,912 881.3,924" fill="none" stroke="#5a5a5a" stroke-width="1"/>
<polyline points="780,886.7 800,893.3" fill="none" stroke="#5a5a5a" stroke-width="1"/>
<polyline points="965.3,720 966.7,733.3 970.7,744 966.7,760 964,773.3 965.3,793.3 970.7,808 966.7,824 970.7,830.7" fill="none" stroke="#5a5a5a" stroke-width="1"/>
<polyline points="966.7,820 970.7,830.7 984,832 977.3,840 972,846.7 977.3,850.7 993.3,845.3 1004,848 1008,841.3 1018.7,842.7 1029.3,848 1033.3,853.3" fill="none" stroke="#5a5a5a" stroke-width="1"/>
<polyline points="1064,735 1060,726.7 1066.7,740 1069.3,753.3 1074.7,756 1077.3,776 1082.7,778.7 1076,789.3 1072,802.7 1066.7,813.3 1057.3,824 1048,830.7 1037.3,840 1033.3,853.3 1034.7,864 1037.3,874.7" fill="none" stroke="#5a5a5a" stroke-width="1"/>
<polyline points="1077.3,776 1093.3,770.7 1100,778.7 1110.7,778.7 1112,784" fill="none" stroke="#5a5a5a" stroke-width="1"/>
<polyline points="1064,735 1059.7,725.9" fill="none" stroke="#5a5a5a" stroke-width="1"/>
<polyline points="720,800 722.7,808 730,812 735,830 742,852 740,870 745,890" fill="none" stroke="#5a5a5a" stroke-width="1"/>
<polyline points="773.3,768 780,780 778,800 774,812 780,822 786.7,841.3" fill="none" stroke="#5a5a5a" stroke-width="1"/>
<polygon points="380.7,221.3 386,233.3 396.7,242.7 418,250.7 428.7,256 439.3,266.7 450,277.3 447,300 450.7,302.7 445.3,310.7 448,322.7 462.7,326.7 490.7,326.7 506.7,329.3 522.7,337.3 544,346.7 549.3,346.7 549.3,352 560,369.3 572,385.3 589.3,384.8 640,389.3 666.7,386.7 693.3,392 709.3,400 730.7,406.7 750,408 770,410.7 792.7,398.7 822,393.3 866,393.3 886,385.3 902,370.7 918,361.3 910,342.7 918,326.7 936.7,329.3 960.7,333.3 982,316 1014,309.3 1021,301 1045,289 1078,283 1100.5,280 1099,262 1072,251.5 1042,259 1012,256 1003,247 1021,220 1028.5,205 1054,211 1084,190 1090,175 1102,160 1117,149.5 1106.5,142 1103.5,130 1121.5,115 1139.5,116.5 1174,109 1216,118 1237,130 1249,145 1258,175 1264,178 1273,196 1271.5,208 1297,211 1315,215.5 1342,229 1345,244 1360,259 1384,253 1420,242.5 1441,239.5 1432,247 1433.5,259 1423,271 1421.5,280 1414,292 1411,304 1399,316 1396,326.5 1363,325 1351,334 1357,352 1355.5,367 1352.5,379 1339,383.5 1342,392.5 1327,388 1318,397 1303,403 1288,406 1283.5,418 1270,415 1252,412 1237,424 1231,433 1214.7,442.4 1196.5,460.5 1183,464 1166.7,468 1147,476 1127.5,487 1129,481 1147,460 1150,448 1144,433 1129,436 1117,445 1099,451 1087,472 1078.7,476 1069.3,482.7 1057.3,476.7 1050.7,483.3 1049.3,491.3 1053.3,498 1062.7,503.3 1074.7,502.7 1080,507.3 1086.7,511.3 1085.3,515.3 1079.3,518 1080,523.3 1088,528.7 1093.3,529.3 1098.7,523.3 1108,515.3 1120,512 1128,514 1133.3,516.7 1148,518.7 1163.3,522 1160,524.7 1158.7,534 1149.3,535.3 1140,535.3 1134.7,538 1124,543.3 1120,548 1114.7,552.7 1106.7,554 1105.3,559.3 1096,567.3 1090.7,575.3 1085.3,582 1085.3,587.3 1092,592.7 1100,596.7 1109.3,601.3 1114.7,612.7 1118.5,620 1120.7,632.8 1124.9,643.5 1133.5,649.9 1135.6,655.2 1144.1,660.5 1146.3,671.2 1149.5,677.6 1148.4,686.1 1135.6,690.4 1127.1,693.6 1135.6,701.1 1144.1,707.5 1146.3,716 1142,726.7 1146.3,733.1 1139.9,741.6 1137.7,752.3 1129.2,760.8 1120.7,769.3 1114.3,777.9 1107.9,788.5 1103.6,797.1 1097.2,805.6 1095.1,816.3 1097.2,824.8 1088.7,829.1 1085.3,833 1075,843.3 1063.3,852.1 1056,862.4 1045.7,872.7 1038.4,877.1 1026.7,888.8 1004.7,894.7 982.7,897.6 968,902 962,901 957,910 949,916.7 941.6,922.5 924,921.1 909.4,923.6 900,929.3 895.3,932 888,936 883.3,938.7 882.7,942.7 886,945.3 889.3,950.7 890.7,957.3 883.3,960 877.3,960.7 873.3,951.3 870.7,946.7 870,937.3 872.7,930.7 870.7,926 858.7,928.7 846,923.6 833.4,924.9 820.7,923.6 805.5,916 803,911 803,893.2 795.3,889.4 790.3,878 780.2,884.4 775.1,880.6 762.4,888.2 747.2,894.5 742.1,902.1 732,895.8 719.3,903.4 704.1,900.8 689,905.9 691.5,918.6 694,936.3 681.3,935 676.3,924.9 666.1,928.7 656,926.2 652.2,913.5 634.5,911 637,900.8 640.8,888.2 633.2,886.9 628.1,878 624.3,862.8 610.4,862.8 599,866.6 599,845 602.8,835 610.4,827.3 613,822.8 620.2,817.4 623.8,817.4 622.6,810.2 625,806 625,788 624.4,776 622,771.8 617.8,772.4 614.8,773.6 613,766.4 611.8,760 605.8,752.6 602.8,752 601,748.4 597.4,749 586.7,766.7 560,755 526.7,773.3 506.7,788.3 476.7,790 463.3,763.3 426.7,756.7 416.7,760 406.7,781.7 400,760 366.7,766.7 340,761.7 320,750 300,736.7 283.3,726.7 253.3,706.7 238.3,700 231.7,710 203.3,696.7 190,686.7 176.7,676.7 170,656.7 170,645 180,650 188.3,645 183.3,626.7 175,606.7 180,600 167.3,594.7 162,578.7 156.7,570.7 140.7,569.3 119.3,561.3 114,552 103.3,538.7 80.7,528 92.7,524 92.7,517.3 90,501.3 87.3,496 66,492 62,478.7 59.3,470.7 67.3,466.7 68.7,453.3 79.3,450.7 88.7,444 106,445.3 106,440 128.7,441.3 132.7,429.3 155.3,428 164.7,421.3 199.3,405.3 210,400 210,384 220.7,373.3 214,352 212.7,336 203.3,330.7 204.7,325.3 244.7,318.7 260.7,322.7 263.3,320 255.3,313.3 263.3,296 272.7,271.5 290,277.3 315.3,279.5 331.3,270.7 328.7,250.7 332.7,241.3 355.3,234.7 359.3,224" fill="none" stroke="#5a5a5a" stroke-width="1"/>
<polygon points="846.7,984 847.3,1006 853.3,1008 865.3,1013 872,1013 873.3,1009.3 879.3,1006.7 881.3,1003.3 889.3,1000 891.3,996.7 891.3,987.3 896.7,978.7 902.3,976 900,966 894.7,962.7 886.7,963.7 878,966.7 868,966.7 862,968.7 858.7,974 848.7,982" fill="none" stroke="#5a5a5a" stroke-width="1"/>
<polygon points="1137.7,831.2 1146.3,837.6 1144.1,850.4 1137.7,880.3 1129.2,901.6 1120.7,918.7 1116.4,910.1 1107.9,899.5 1103.6,886.7 1107.9,867.5 1118.5,848.3 1127.1,835.5" fill="none" stroke="#5a5a5a" stroke-width="1"/>
<g fill="none" stroke="#555" stroke-width="1.1" stroke-linecap="round"><path d="M862,1062.7 Q871,1075 874,1090.7"/><path d="M884.7,1164 Q884,1178 879.3,1190.7"/><path d="M838,1296 Q836,1310 840.1,1324"/><path d="M918,1390.7 Q930,1387 942,1381.3"/><path d="M1002,1294.7 L1018,1273.3"/><path d="M1070,1197.3 Q1076,1185 1079.3,1170.7"/><path d="M1081.2,1068 L1081.2,1094.7"/><path d="M1090,1018 L1103,991"/><path d="M1128,947 L1145.6,923"/><path d="M1158,879 L1165,849"/></g>
<g fill="#555"><circle cx="911" cy="1041" r="0.9"/><circle cx="928" cy="1044" r="0.9"/><circle cx="914" cy="1056" r="1.1"/><circle cx="918" cy="1063" r="1"/><circle cx="923" cy="1060" r="0.9"/><circle cx="935" cy="1057" r="1"/><circle cx="933" cy="1067" r="0.9"/><circle cx="926" cy="1075" r="0.8"/><circle cx="938" cy="1055" r="0.8"/><circle cx="965" cy="1081" r="0.8"/><circle cx="968" cy="1070" r="0.8"/><circle cx="975" cy="1067" r="0.8"/><circle cx="983" cy="1065" r="0.9"/><circle cx="989" cy="1068" r="0.8"/><circle cx="979" cy="1079" r="0.8"/><circle cx="1028.7" cy="1060" r="0.8"/><circle cx="1051.3" cy="1090" r="1"/><circle cx="999.3" cy="1121.3" r="0.8"/><circle cx="1030" cy="948" r="1.2"/><circle cx="1012" cy="940" r="1"/><circle cx="1093" cy="874" r="1.3"/><circle cx="1136" cy="899" r="0.9"/><circle cx="1137.6" cy="914" r="1"/><circle cx="1180" cy="819" r="1"/><circle cx="1149" cy="823" r="0.8"/><circle cx="982" cy="1184" r="1.2"/><circle cx="979" cy="1196" r="1"/><circle cx="985" cy="1195" r="0.9"/><circle cx="970" cy="1198" r="0.8"/><circle cx="990" cy="1212" r="0.8"/><circle cx="974" cy="1214" r="0.8"/><circle cx="984" cy="1222" r="0.8"/><circle cx="1002" cy="1212" r="0.8"/><circle cx="1009" cy="1224" r="0.9"/><circle cx="1014" cy="1229" r="1"/><circle cx="1026" cy="1220" r="0.8"/><circle cx="1022" cy="1237" r="0.8"/><circle cx="1010" cy="1237" r="0.9"/><circle cx="1025" cy="1250" r="0.8"/><circle cx="1040" cy="1209" r="0.9"/><circle cx="1046" cy="1203" r="1"/><circle cx="1054" cy="1200" r="0.8"/><circle cx="1043" cy="1227" r="0.8"/><circle cx="1030" cy="1188" r="0.8"/><circle cx="960" cy="1215" r="0.8"/><circle cx="972" cy="1238" r="0.8"/><circle cx="961" cy="1249" r="0.9"/><circle cx="969" cy="1251" r="0.9"/><circle cx="982" cy="1250" r="0.9"/><circle cx="1000" cy="1261" r="0.9"/><circle cx="1003" cy="1272" r="0.9"/><circle cx="1013" cy="1282" r="0.8"/><circle cx="996" cy="1276" r="0.9"/><circle cx="989" cy="1289" r="0.8"/><circle cx="928" cy="1251" r="1"/><circle cx="936" cy="1251" r="0.9"/><circle cx="913" cy="1258" r="0.8"/><circle cx="922" cy="1271" r="0.9"/><circle cx="915" cy="1276" r="0.9"/><circle cx="916" cy="1283" r="0.8"/><circle cx="943" cy="1267" r="0.8"/><circle cx="952" cy="1268" r="0.8"/><circle cx="878" cy="1276" r="0.9"/><circle cx="890" cy="1270" r="0.8"/><circle cx="958" cy="1300" r="0.8"/><circle cx="950" cy="1316" r="0.8"/><circle cx="935" cy="1328" r="0.8"/><circle cx="934" cy="1340" r="0.9"/><circle cx="937" cy="1347" r="0.9"/><circle cx="944" cy="1348" r="0.8"/><circle cx="924" cy="1377" r="0.8"/><circle cx="929" cy="1377" r="0.8"/></g>
<path d="M866,1289 Q870,1284 876,1283" fill="none" stroke="#555" stroke-width="1.3"/>
<path d="M963,1283 Q970,1276 979,1273 L977,1279 Q970,1284 963,1283 Z" fill="#FEE391" stroke="#555" stroke-width="0.7"/>
</g>
<rect x="31" y="31" width="1438" height="1438" fill="none" stroke="#000" stroke-width="2"/>
<text x="61" y="133.5" font-family="Liberation Sans" font-size="66" fill="#000">O-CTS1011</text>
<g class="leg">
<rect x="72" y="881" width="42" height="42" fill="#FFFFE5"/>
<text x="125" y="915.8" textLength="265" lengthAdjust="spacingAndGlyphs">0.162% - 0.379%</text>
<rect x="72" y="923" width="42" height="42" fill="#FFFACA"/>
<text x="125" y="957.8" textLength="265" lengthAdjust="spacingAndGlyphs">0.379% - 0.567%</text>
<rect x="72" y="965" width="42" height="42" fill="#FFF0AE"/>
<text x="125" y="999.8" textLength="265" lengthAdjust="spacingAndGlyphs">0.567% - 0.737%</text>
<rect x="72" y="1007" width="42" height="42" fill="#FEE391"/>
<text x="125" y="1041.8" textLength="265" lengthAdjust="spacingAndGlyphs">0.737% - 0.938%</text>
<rect x="72" y="1049" width="42" height="42" fill="#FECE65"/>
<text x="125" y="1083.8" textLength="265" lengthAdjust="spacingAndGlyphs">0.938% - 1.125%</text>
<rect x="72" y="1091" width="42" height="42" fill="#FEB642"/>
<text x="125" y="1125.8" textLength="265" lengthAdjust="spacingAndGlyphs">1.125% - 1.341%</text>
<rect x="72" y="1133" width="42" height="42" fill="#FE9929"/>
<text x="125" y="1167.8" textLength="265" lengthAdjust="spacingAndGlyphs">1.341% - 1.559%</text>
<rect x="72" y="1175" width="42" height="42" fill="#F27E1B"/>
<text x="125" y="1209.8" textLength="265" lengthAdjust="spacingAndGlyphs">1.559% - 1.770%</text>
<rect x="72" y="1217" width="42" height="42" fill="#E1640E"/>
<text x="125" y="1251.8" textLength="265" lengthAdjust="spacingAndGlyphs">1.770% - 2.064%</text>
<rect x="72" y="1259" width="42" height="42" fill="#CC4C02"/>
<text x="125" y="1293.8" textLength="265" lengthAdjust="spacingAndGlyphs">2.064% - 2.402%</text>
<rect x="72" y="1301" width="42" height="42" fill="#AA3C03"/>
<text x="125" y="1335.8" textLength="265" lengthAdjust="spacingAndGlyphs">2.402% - 2.956%</text>
<rect x="72" y="1343" width="42" height="42" fill="#882F05"/>
<text x="125" y="1377.8" textLength="265" lengthAdjust="spacingAndGlyphs">2.956% - 3.636%</text>
<rect x="72" y="1385" width="42" height="42" fill="#662506"/>
<text x="125" y="1419.8" textLength="265" lengthAdjust="spacingAndGlyphs">3.636% - 4.348%</text>
</g>
<g fill="none" stroke="#000" stroke-width="2.1" stroke-linecap="butt" stroke-linejoin="miter"><path d="M71,830.6 L89,830.6 M80,819.8 L80,858.2 M80,833.6 Q76,843 69.8,851.6 M80.6,836 L87.2,841.4 M92,823.4 L92,857.6 M106.4,823.4 L106.4,857.6 M92,823.4 L106.4,823.4 M92,834.2 L106.4,834.2 M92,843.8 L106.4,843.8 M92,854 L106.4,854"/><path d="M115.4,826.2 L131,826.2 M131,826.2 Q126,843 113.6,855.2 M117.8,830 Q126,842 130.4,852.8 M132.2,831.2 L153.2,831.2 M144.2,820.4 L144.2,855.6 L137,853.6 M135.8,839.6 L138.6,844.4"/><path d="M177.2,819.8 L177.2,839.6 M177.2,828.8 L195.2,828.8 M165.8,839.6 L165.8,857.6 M190.4,839.6 L190.4,857.6 M165.8,839.6 L190.4,839.6 M165.8,854 L190.4,854"/><path d="M209,821 L209,855.8 M209,834.8 L221,834.8 M207.8,855.2 L221,849.2 M224.6,821 L224.6,853 Q225,855.2 229,855.2 L240.2,855.2 L239.6,846.8 M225.8,837.8 L239,827.6"/><path d="M1189.9,1391.9 Q1186,1402 1180.9,1409.5 M1187,1402.6 L1187,1424.5 M1198.5,1391.9 Q1195,1400 1190.5,1406.3 M1199.3,1398.3 L1199.3,1424.5 M1199.3,1398.1 L1211.8,1398.1 M1199.3,1407.1 L1211.3,1407.1 M1199.3,1415.4 L1211.8,1415.4"/><path d="M1221.4,1397.5 L1237.4,1397.5 M1231,1392.5 L1231,1403.1 M1217.1,1403.4 L1248.6,1403.4 M1243.3,1394.6 Q1232,1408 1217.1,1415.4 M1226.7,1408.5 L1226.7,1423.4 M1241.1,1408.5 L1241.1,1423.1 M1226.7,1409.3 L1241.1,1409.3 M1226.7,1414.3 L1241.1,1414.3 M1226.7,1420.5 L1241.1,1420.5"/><path d="M1329.7,1393.4 L1332.7,1396.5 M1326.6,1401.5 L1329.7,1404.2 M1330.4,1422.6 L1333.5,1411.1 M1335,1401.1 L1346.5,1401.1 M1340.4,1392.7 L1340.4,1410.3 M1336,1405 L1336,1410.3 L1345.5,1410.3 L1345.5,1405 M1340.4,1410.3 Q1338,1419 1332.7,1424.1 M1336,1394 L1337.5,1398 M1345,1394 L1343.5,1398 M1348.1,1395 L1348.1,1412 Q1347,1420 1342.7,1424.1 M1355.7,1395 L1355.7,1423.3 L1352.5,1421.5 M1348.1,1395 L1355.7,1395 M1348.1,1404.2 L1355.7,1404.2 M1348.1,1412.6 L1355.7,1412.6"/><path d="M1366.5,1393.4 L1369.5,1396.5 M1363.4,1401.9 L1366.5,1404.9 M1367.2,1422.6 L1371.1,1410.3 M1374.1,1395 L1394.1,1395 M1374.1,1395 L1374.1,1410 Q1373,1418 1368,1423.3 M1378,1399.6 L1391.8,1399.6 L1391.8,1410.3 L1378,1410.3 Z M1378,1404.9 L1391.8,1404.9 M1384,1396 L1383,1399.6 M1384.9,1410.3 L1384.9,1422.6 L1382.5,1421 M1380.3,1414.1 L1375.7,1419.5 M1389.5,1414.1 L1394.1,1418.7"/><path d="M1401,1395 L1412.5,1395 L1412.5,1412.6 M1399.4,1401.1 L1414,1401.1 M1401,1407.2 L1412.5,1407.2 M1406.3,1395 Q1404,1409 1398.7,1418.7 M1404.8,1412.6 L1412.5,1412.6 L1412.5,1422.6 L1404.8,1422.6 Z M1417.1,1393.4 L1418.8,1396.5 M1427,1392.7 L1424.7,1396.5 M1415.5,1400.3 L1430.1,1400.3 M1417.1,1406.5 L1429.3,1406.5 M1414.8,1412.6 L1430.9,1412.6 M1421.7,1396.5 L1421.7,1424.1"/></g><text x="1252.5" y="1420.8" font-family="Liberation Sans" font-size="33" fill="#000">:O1a</text>
</svg>
</body></html>
